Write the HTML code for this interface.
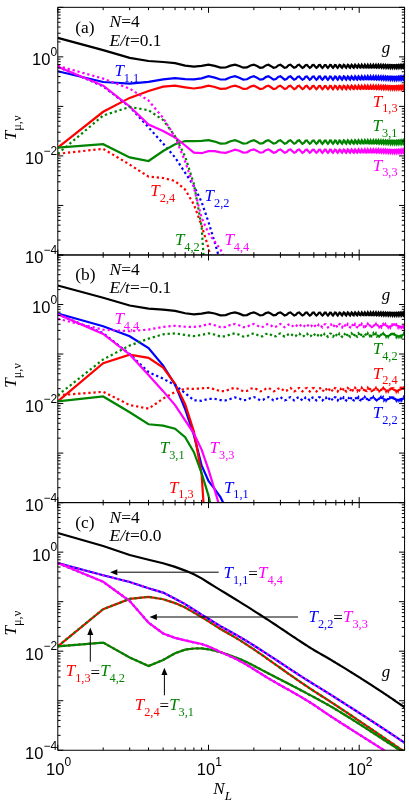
<!DOCTYPE html>
<html><head><meta charset="utf-8"><title>fig</title>
<style>html,body{margin:0;padding:0;background:#fff}svg{display:block;will-change:transform}text{white-space:pre}</style></head>
<body>
<svg width="409" height="810" viewBox="0 0 409 810">
<rect width="409" height="810" fill="#fff"/>
<defs>
<clipPath id="cp0"><rect x="57.80" y="7.33" width="346.77" height="247.64"/></clipPath>
<clipPath id="cp1"><rect x="57.80" y="254.97" width="346.77" height="247.64"/></clipPath>
<clipPath id="cp2"><rect x="57.80" y="502.61" width="346.77" height="247.64"/></clipPath>
</defs>
<g clip-path="url(#cp0)">
<path d="M57.80,37.90 L103.17,50.10 L129.70,57.90 L148.53,61.00 L163.13,62.00 L175.07,63.20 L185.16,65.60 L193.90,66.70 L201.60,65.90 L208.50,64.68 L214.74,65.90 L220.43,67.65 L225.67,67.48 L230.52,65.62 L235.04,64.69 L239.26,65.99 L243.23,67.70 L246.97,67.41 L250.51,65.54 L253.87,64.71 L257.06,66.08 L260.10,67.74 L263.01,67.35 L265.80,65.46 L268.47,64.72 L271.04,66.17 L273.51,67.77 L275.89,67.28 L278.18,65.38 L280.40,64.75 L282.55,66.26 L284.63,67.80 L286.64,67.21 L288.59,65.31 L290.49,64.78 L292.33,66.35 L294.13,67.83 L295.87,67.13 L297.57,65.24 L299.23,64.81 L300.85,66.44 L302.42,67.85 L303.96,67.05 L305.47,65.17 L306.94,64.85 L308.38,66.54 L309.79,67.86 L311.16,66.97 L312.51,65.11 L313.83,64.89 L315.13,66.62 L316.40,67.87 L317.65,66.89 L318.87,65.05 L320.07,64.94 L321.25,66.71 L322.41,67.88 L323.55,66.80 L324.67,64.99 L325.77,64.99 L326.85,66.80 L327.91,67.88 L328.96,66.71 L329.99,64.94 L331.01,65.05 L332.01,66.89 L332.99,67.87 L333.96,66.62 L334.91,64.89 L335.86,65.11 L336.78,66.97 L337.70,67.86 L338.60,66.54 L339.49,64.85 L340.37,65.17 L341.24,67.05 L342.09,67.85 L342.94,66.44 L343.77,64.81 L344.60,65.24 L345.41,67.13 L346.21,67.83 L347.01,66.35 L347.79,64.78 L348.56,65.31 L349.33,67.21 L350.09,67.80 L350.83,66.26 L351.57,64.75 L352.30,65.38 L353.03,67.28 L353.74,67.77 L354.45,66.17 L355.15,64.74 L355.84,65.47 L356.53,67.34 L357.21,67.72 L357.88,66.08 L358.54,64.73 L359.20,65.56 L359.85,67.39 L360.50,67.66 L361.13,66.00 L361.77,64.74 L362.39,65.64 L363.01,67.44 L363.63,67.60 L364.24,65.91 L364.84,64.74 L365.44,65.73 L366.03,67.48 L366.62,67.54 L367.20,65.83 L367.78,64.76 L368.35,65.82 L368.91,67.52 L369.48,67.48 L370.03,65.76 L370.58,64.77 L371.13,65.90 L371.68,67.56 L372.21,67.41 L372.75,65.68 L373.28,64.80 L373.80,65.99 L374.33,67.58 L374.84,67.34 L375.36,65.61 L375.87,64.82 L376.37,66.08 L376.87,67.61 L377.37,67.27 L377.86,65.55 L378.35,64.86 L378.84,66.16 L379.32,67.63 L379.80,67.20 L380.28,65.49 L380.75,64.89 L381.22,66.25 L381.69,67.64 L382.15,67.12 L382.61,65.43 L383.07,64.93 L383.52,66.33 L383.97,67.65 L384.41,67.05 L384.86,65.37 L385.30,64.98 L385.74,66.41 L386.17,67.65 L386.60,66.97 L387.03,65.32 L387.46,65.02 L387.88,66.48 L388.30,67.65 L388.72,66.89 L389.14,65.28 L389.55,65.07 L389.96,66.56 L390.37,67.65 L390.77,66.81 L391.18,65.24 L391.58,65.13 L391.97,66.63 L392.37,67.64 L392.76,66.74 L393.15,65.20 L393.54,65.18 L393.93,66.70 L394.31,67.62 L394.69,66.66 L395.07,65.17 L395.45,65.24 L395.83,66.77 L396.20,67.60 L396.57,66.58 L396.94,65.14 L397.30,65.30 L397.67,66.83 L398.03,67.58 L398.39,66.50 L398.75,65.12 L399.11,65.37 L399.46,66.89 L399.82,67.55 L400.17,66.43 L400.52,65.10 L400.86,65.43 L401.21,66.95 L401.55,67.52 L401.89,66.35 L402.23,65.09 L402.57,65.50 L402.91,67.00 L403.24,67.48 L403.58,66.28 L403.91,65.08 L404.24,65.57 L404.57,67.05" fill="none" stroke="#000000" stroke-width="2.20" stroke-linejoin="miter" stroke-miterlimit="10"/>
<path d="M57.80,71.20 L103.17,82.00 L129.70,83.60 L148.53,81.90 L163.13,79.30 L175.07,78.10 L185.16,79.10 L193.90,79.30 L201.60,78.40 L208.50,76.25 L214.74,77.59 L220.43,79.50 L225.67,79.31 L230.52,77.28 L235.04,76.26 L239.26,77.68 L243.23,79.55 L246.97,79.24 L250.51,77.19 L253.87,76.28 L257.06,77.78 L260.10,79.59 L263.01,79.17 L265.80,77.10 L268.47,76.30 L271.04,77.88 L273.51,79.63 L275.89,79.09 L278.18,77.02 L280.40,76.32 L282.55,77.98 L284.63,79.66 L286.64,79.01 L288.59,76.94 L290.49,76.36 L292.33,78.08 L294.13,79.69 L295.87,78.93 L297.57,76.86 L299.23,76.39 L300.85,78.18 L302.42,79.72 L303.96,78.84 L305.47,76.79 L306.94,76.43 L308.38,78.28 L309.79,79.73 L311.16,78.75 L312.51,76.72 L313.83,76.48 L315.13,78.38 L316.40,79.74 L317.65,78.66 L318.87,76.65 L320.07,76.53 L321.25,78.47 L322.41,79.75 L323.55,78.57 L324.67,76.59 L325.77,76.59 L326.85,78.57 L327.91,79.75 L328.96,78.47 L329.99,76.53 L331.01,76.65 L332.01,78.66 L332.99,79.74 L333.96,78.38 L334.91,76.48 L335.86,76.72 L336.78,78.75 L337.70,79.73 L338.60,78.28 L339.49,76.43 L340.37,76.79 L341.24,78.84 L342.09,79.72 L342.94,78.18 L343.77,76.39 L344.60,76.86 L345.41,78.93 L346.21,79.69 L347.01,78.08 L347.79,76.36 L348.56,76.94 L349.33,79.01 L350.09,79.66 L350.83,77.98 L351.57,76.32 L352.30,77.02 L353.03,79.09 L353.74,79.62 L354.45,77.88 L355.15,76.31 L355.84,77.11 L356.53,79.15 L357.21,79.57 L357.88,77.78 L358.54,76.31 L359.20,77.21 L359.85,79.21 L360.50,79.51 L361.13,77.69 L361.77,76.31 L362.39,77.30 L363.01,79.27 L363.63,79.45 L364.24,77.60 L364.84,76.32 L365.44,77.40 L366.03,79.32 L366.62,79.38 L367.20,77.51 L367.78,76.33 L368.35,77.49 L368.91,79.36 L369.48,79.31 L370.03,77.43 L370.58,76.35 L371.13,77.59 L371.68,79.40 L372.21,79.24 L372.75,77.35 L373.28,76.38 L373.80,77.68 L374.33,79.43 L374.84,79.16 L375.36,77.27 L375.87,76.41 L376.37,77.78 L376.87,79.45 L377.37,79.08 L377.86,77.20 L378.35,76.44 L378.84,77.87 L379.32,79.47 L379.80,79.00 L380.28,77.13 L380.75,76.48 L381.22,77.96 L381.69,79.49 L382.15,78.92 L382.61,77.07 L383.07,76.53 L383.52,78.05 L383.97,79.50 L384.41,78.84 L384.86,77.01 L385.30,76.57 L385.74,78.14 L386.17,79.50 L386.60,78.76 L387.03,76.95 L387.46,76.63 L387.88,78.22 L388.30,79.50 L388.72,78.67 L389.14,76.90 L389.55,76.68 L389.96,78.31 L390.37,79.49 L390.77,78.58 L391.18,76.86 L391.58,76.74 L391.97,78.38 L392.37,79.48 L392.76,78.50 L393.15,76.82 L393.54,76.80 L393.93,78.46 L394.31,79.47 L394.69,78.41 L395.07,76.79 L395.45,76.87 L395.83,78.53 L396.20,79.45 L396.57,78.33 L396.94,76.76 L397.30,76.93 L397.67,78.60 L398.03,79.42 L398.39,78.25 L398.75,76.73 L399.11,77.00 L399.46,78.67 L399.82,79.39 L400.17,78.16 L400.52,76.71 L400.86,77.07 L401.21,78.73 L401.55,79.36 L401.89,78.08 L402.23,76.70 L402.57,77.15 L402.91,78.79 L403.24,79.32 L403.58,78.00 L403.91,76.69 L404.24,77.22 L404.57,78.84" fill="none" stroke="#0000ff" stroke-width="2.20" stroke-linejoin="miter" stroke-miterlimit="10"/>
<path d="M57.80,147.60 L103.17,111.80 L129.70,97.90 L148.53,91.00 L163.13,86.70 L175.07,85.70 L185.16,87.30 L193.90,88.50 L201.60,87.30 L208.50,85.65 L214.74,86.99 L220.43,88.90 L225.67,88.71 L230.52,86.68 L235.04,85.66 L239.26,87.08 L243.23,88.95 L246.97,88.64 L250.51,86.59 L253.87,85.68 L257.06,87.18 L260.10,88.99 L263.01,88.57 L265.80,86.50 L268.47,85.70 L271.04,87.28 L273.51,89.03 L275.89,88.49 L278.18,86.42 L280.40,85.72 L282.55,87.38 L284.63,89.06 L286.64,88.41 L288.59,86.34 L290.49,85.76 L292.33,87.48 L294.13,89.09 L295.87,88.33 L297.57,86.26 L299.23,85.79 L300.85,87.58 L302.42,89.12 L303.96,88.24 L305.47,86.19 L306.94,85.83 L308.38,87.68 L309.79,89.13 L311.16,88.15 L312.51,86.12 L313.83,85.88 L315.13,87.78 L316.40,89.14 L317.65,88.06 L318.87,86.05 L320.07,85.93 L321.25,87.87 L322.41,89.15 L323.55,87.97 L324.67,85.99 L325.77,85.99 L326.85,87.97 L327.91,89.15 L328.96,87.87 L329.99,85.93 L331.01,86.05 L332.01,88.06 L332.99,89.14 L333.96,87.78 L334.91,85.88 L335.86,86.12 L336.78,88.15 L337.70,89.13 L338.60,87.68 L339.49,85.83 L340.37,86.19 L341.24,88.24 L342.09,89.12 L342.94,87.58 L343.77,85.79 L344.60,86.26 L345.41,88.33 L346.21,89.09 L347.01,87.48 L347.79,85.76 L348.56,86.34 L349.33,88.41 L350.09,89.06 L350.83,87.38 L351.57,85.72 L352.30,86.42 L353.03,88.49 L353.74,89.02 L354.45,87.28 L355.15,85.71 L355.84,86.51 L356.53,88.55 L357.21,88.97 L357.88,87.18 L358.54,85.71 L359.20,86.61 L359.85,88.61 L360.50,88.91 L361.13,87.09 L361.77,85.71 L362.39,86.70 L363.01,88.67 L363.63,88.85 L364.24,87.00 L364.84,85.72 L365.44,86.80 L366.03,88.72 L366.62,88.78 L367.20,86.91 L367.78,85.73 L368.35,86.89 L368.91,88.76 L369.48,88.71 L370.03,86.83 L370.58,85.75 L371.13,86.99 L371.68,88.80 L372.21,88.64 L372.75,86.75 L373.28,85.78 L373.80,87.08 L374.33,88.83 L374.84,88.56 L375.36,86.67 L375.87,85.81 L376.37,87.18 L376.87,88.85 L377.37,88.48 L377.86,86.60 L378.35,85.84 L378.84,87.27 L379.32,88.87 L379.80,88.40 L380.28,86.53 L380.75,85.88 L381.22,87.36 L381.69,88.89 L382.15,88.32 L382.61,86.47 L383.07,85.93 L383.52,87.45 L383.97,88.90 L384.41,88.24 L384.86,86.41 L385.30,85.97 L385.74,87.54 L386.17,88.90 L386.60,88.16 L387.03,86.35 L387.46,86.03 L387.88,87.62 L388.30,88.90 L388.72,88.07 L389.14,86.30 L389.55,86.08 L389.96,87.71 L390.37,88.89 L390.77,87.98 L391.18,86.26 L391.58,86.14 L391.97,87.78 L392.37,88.88 L392.76,87.90 L393.15,86.22 L393.54,86.20 L393.93,87.86 L394.31,88.87 L394.69,87.81 L395.07,86.19 L395.45,86.27 L395.83,87.93 L396.20,88.85 L396.57,87.73 L396.94,86.16 L397.30,86.33 L397.67,88.00 L398.03,88.82 L398.39,87.65 L398.75,86.13 L399.11,86.40 L399.46,88.07 L399.82,88.79 L400.17,87.56 L400.52,86.11 L400.86,86.47 L401.21,88.13 L401.55,88.76 L401.89,87.48 L402.23,86.10 L402.57,86.55 L402.91,88.19 L403.24,88.72 L403.58,87.40 L403.91,86.09 L404.24,86.62 L404.57,88.24" fill="none" stroke="#ff0000" stroke-width="2.20" stroke-linejoin="miter" stroke-miterlimit="10"/>
<path d="M57.80,66.70 L103.17,86.30 L129.70,106.80 L148.53,127.40 L163.13,143.50 L175.07,157.50 L185.16,172.80 L193.90,186.00 L201.60,202.00 L208.50,222.00 L214.74,242.50 L220.43,262.00 L225.67,282.00" fill="none" stroke="#0000ff" stroke-width="2.20" stroke-linejoin="miter" stroke-miterlimit="10" stroke-dasharray="2.3 2.8"/>
<path d="M57.80,153.80 L103.17,148.80 L129.70,164.60 L148.53,176.60 L163.13,178.00 L175.07,181.00 L185.16,189.60 L193.90,204.50 L201.60,225.50 L208.50,248.00 L214.74,276.00" fill="none" stroke="#ff0000" stroke-width="2.20" stroke-linejoin="miter" stroke-miterlimit="10" stroke-dasharray="2.3 2.8"/>
<path d="M57.80,147.60 L103.17,144.20 L129.70,157.40 L148.53,161.00 L163.13,151.00 L175.07,144.30 L185.16,141.00 L193.90,141.20 L201.60,140.80 L208.50,140.20 L214.74,141.57 L220.43,143.54 L225.67,143.35 L230.52,141.26 L235.04,140.21 L239.26,141.67 L243.23,143.59 L246.97,143.28 L250.51,141.17 L253.87,140.23 L257.06,141.78 L260.10,143.64 L263.01,143.20 L265.80,141.08 L268.47,140.25 L271.04,141.88 L273.51,143.68 L275.89,143.12 L278.18,140.99 L280.40,140.28 L282.55,141.98 L284.63,143.71 L286.64,143.04 L288.59,140.91 L290.49,140.31 L292.33,142.08 L294.13,143.74 L295.87,142.96 L297.57,140.83 L299.23,140.35 L300.85,142.19 L302.42,143.76 L303.96,142.87 L305.47,140.75 L306.94,140.39 L308.38,142.29 L309.79,143.78 L311.16,142.78 L312.51,140.68 L313.83,140.44 L315.13,142.39 L316.40,143.79 L317.65,142.68 L318.87,140.61 L320.07,140.49 L321.25,142.49 L322.41,143.80 L323.55,142.59 L324.67,140.55 L325.77,140.55 L326.85,142.59 L327.91,143.80 L328.96,142.49 L329.99,140.49 L331.01,140.61 L332.01,142.68 L332.99,143.79 L333.96,142.39 L334.91,140.44 L335.86,140.68 L336.78,142.78 L337.70,143.78 L338.60,142.29 L339.49,140.39 L340.37,140.75 L341.24,142.87 L342.09,143.76 L342.94,142.19 L343.77,140.35 L344.60,140.83 L345.41,142.96 L346.21,143.74 L347.01,142.08 L347.79,140.31 L348.56,140.91 L349.33,143.04 L350.09,143.71 L350.83,141.98 L351.57,140.28 L352.30,140.99 L353.03,143.12 L353.74,143.67 L354.45,141.88 L355.15,140.26 L355.84,141.09 L356.53,143.19 L357.21,143.61 L357.88,141.78 L358.54,140.26 L359.20,141.18 L359.85,143.25 L360.50,143.55 L361.13,141.68 L361.77,140.26 L362.39,141.28 L363.01,143.30 L363.63,143.49 L364.24,141.59 L364.84,140.27 L365.44,141.38 L366.03,143.35 L366.62,143.42 L367.20,141.50 L367.78,140.29 L368.35,141.48 L368.91,143.40 L369.48,143.35 L370.03,141.41 L370.58,140.31 L371.13,141.58 L371.68,143.44 L372.21,143.27 L372.75,141.33 L373.28,140.33 L373.80,141.68 L374.33,143.47 L374.84,143.20 L375.36,141.25 L375.87,140.36 L376.37,141.77 L376.87,143.49 L377.37,143.12 L377.86,141.18 L378.35,140.40 L378.84,141.87 L379.32,143.52 L379.80,143.03 L380.28,141.11 L380.75,140.44 L381.22,141.96 L381.69,143.53 L382.15,142.95 L382.61,141.04 L383.07,140.48 L383.52,142.05 L383.97,143.54 L384.41,142.86 L384.86,140.98 L385.30,140.53 L385.74,142.14 L386.17,143.54 L386.60,142.78 L387.03,140.92 L387.46,140.59 L387.88,142.23 L388.30,143.54 L388.72,142.69 L389.14,140.87 L389.55,140.64 L389.96,142.31 L390.37,143.54 L390.77,142.60 L391.18,140.83 L391.58,140.70 L391.97,142.40 L392.37,143.53 L392.76,142.51 L393.15,140.79 L393.54,140.77 L393.93,142.47 L394.31,143.51 L394.69,142.43 L395.07,140.75 L395.45,140.83 L395.83,142.55 L396.20,143.49 L396.57,142.34 L396.94,140.72 L397.30,140.90 L397.67,142.62 L398.03,143.46 L398.39,142.25 L398.75,140.70 L399.11,140.97 L399.46,142.69 L399.82,143.43 L400.17,142.17 L400.52,140.68 L400.86,141.05 L401.21,142.75 L401.55,143.39 L401.89,142.08 L402.23,140.66 L402.57,141.12 L402.91,142.81 L403.24,143.35 L403.58,142.00 L403.91,140.65 L404.24,141.20 L404.57,142.86" fill="none" stroke="#008400" stroke-width="2.20" stroke-linejoin="miter" stroke-miterlimit="10"/>
<path d="M57.80,66.70 L103.17,85.60 L129.70,106.50 L148.53,124.50 L163.13,131.00 L175.07,137.50 L185.16,145.50 L193.90,152.60 L201.60,153.20 L208.50,151.20 L214.74,151.20 L220.43,152.40 L225.67,152.80 L230.52,151.20 L235.04,149.70 L239.26,150.79 L243.23,152.62 L246.97,152.32 L250.51,150.31 L253.87,149.41 L257.06,150.89 L260.10,152.66 L263.01,152.25 L265.80,150.22 L268.47,149.43 L271.04,150.98 L273.51,152.70 L275.89,152.17 L278.18,150.14 L280.40,149.45 L282.55,151.08 L284.63,152.74 L286.64,152.09 L288.59,150.06 L290.49,149.48 L292.33,151.18 L294.13,152.76 L295.87,152.01 L297.57,149.98 L299.23,149.52 L300.85,151.28 L302.42,152.79 L303.96,151.93 L305.47,149.91 L306.94,149.56 L308.38,151.37 L309.79,152.80 L311.16,151.84 L312.51,149.84 L313.83,149.61 L315.13,151.47 L316.40,152.81 L317.65,151.75 L318.87,149.77 L320.07,149.66 L321.25,151.57 L322.41,152.82 L323.55,151.66 L324.67,149.71 L325.77,149.71 L326.85,151.66 L327.91,152.82 L328.96,151.57 L329.99,149.66 L331.01,149.77 L332.01,151.75 L332.99,152.81 L333.96,151.47 L334.91,149.61 L335.86,149.84 L336.78,151.84 L337.70,152.80 L338.60,151.37 L339.49,149.56 L340.37,149.91 L341.24,151.93 L342.09,152.79 L342.94,151.28 L343.77,149.52 L344.60,149.98 L345.41,152.01 L346.21,152.76 L347.01,151.18 L347.79,149.48 L348.56,150.06 L349.33,152.09 L350.09,152.74 L350.83,151.08 L351.57,149.45 L352.30,150.14 L353.03,152.17 L353.74,152.70 L354.45,150.98 L355.15,149.44 L355.84,150.23 L356.53,152.23 L357.21,152.64 L357.88,150.89 L358.54,149.44 L359.20,150.32 L359.85,152.29 L360.50,152.59 L361.13,150.80 L361.77,149.44 L362.39,150.41 L363.01,152.35 L363.63,152.52 L364.24,150.71 L364.84,149.45 L365.44,150.51 L366.03,152.39 L366.62,152.46 L367.20,150.62 L367.78,149.46 L368.35,150.60 L368.91,152.43 L369.48,152.39 L370.03,150.54 L370.58,149.48 L371.13,150.70 L371.68,152.47 L372.21,152.32 L372.75,150.46 L373.28,149.51 L373.80,150.79 L374.33,152.50 L374.84,152.24 L375.36,150.38 L375.87,149.54 L376.37,150.88 L376.87,152.53 L377.37,152.17 L377.86,150.31 L378.35,149.57 L378.84,150.97 L379.32,152.55 L379.80,152.09 L380.28,150.25 L380.75,149.61 L381.22,151.06 L381.69,152.56 L382.15,152.01 L382.61,150.18 L383.07,149.65 L383.52,151.15 L383.97,152.57 L384.41,151.93 L384.86,150.13 L385.30,149.70 L385.74,151.24 L386.17,152.58 L386.60,151.84 L387.03,150.07 L387.46,149.75 L387.88,151.32 L388.30,152.57 L388.72,151.76 L389.14,150.02 L389.55,149.80 L389.96,151.40 L390.37,152.57 L390.77,151.67 L391.18,149.98 L391.58,149.86 L391.97,151.48 L392.37,152.56 L392.76,151.59 L393.15,149.94 L393.54,149.92 L393.93,151.55 L394.31,152.54 L394.69,151.51 L395.07,149.91 L395.45,149.99 L395.83,151.62 L396.20,152.52 L396.57,151.42 L396.94,149.88 L397.30,150.05 L397.67,151.69 L398.03,152.50 L398.39,151.34 L398.75,149.86 L399.11,150.12 L399.46,151.76 L399.82,152.47 L400.17,151.26 L400.52,149.84 L400.86,150.19 L401.21,151.82 L401.55,152.43 L401.89,151.18 L402.23,149.82 L402.57,150.26 L402.91,151.87 L403.24,152.39 L403.58,151.10 L403.91,149.81 L404.24,150.33 L404.57,151.92" fill="none" stroke="#ff00ff" stroke-width="2.20" stroke-linejoin="miter" stroke-miterlimit="10"/>
<path d="M57.80,153.80 L103.17,115.50 L129.70,107.00 L148.53,110.20 L163.13,120.00 L175.07,136.30 L185.16,156.50 L193.90,184.00 L201.60,226.50 L208.50,330.00" fill="none" stroke="#008400" stroke-width="2.20" stroke-linejoin="miter" stroke-miterlimit="10" stroke-dasharray="2.3 2.8"/>
<path d="M57.80,65.80 L103.17,78.60 L129.70,88.60 L148.53,100.50 L163.13,118.00 L175.07,137.00 L185.16,161.50 L193.90,187.50 L201.60,217.70 L208.50,233.30 L214.74,241.50 L220.43,249.50 L225.67,260.00 L230.52,272.00" fill="none" stroke="#ff00ff" stroke-width="2.20" stroke-linejoin="miter" stroke-miterlimit="10" stroke-dasharray="2.3 2.8"/>
</g>
<g clip-path="url(#cp1)">
<path d="M57.80,285.54 L103.17,297.74 L129.70,305.54 L148.53,308.64 L163.13,309.64 L175.07,310.84 L185.16,313.24 L193.90,314.34 L201.60,313.54 L208.50,312.32 L214.74,313.54 L220.43,315.29 L225.67,315.12 L230.52,313.26 L235.04,312.33 L239.26,313.63 L243.23,315.34 L246.97,315.05 L250.51,313.18 L253.87,312.35 L257.06,313.72 L260.10,315.38 L263.01,314.99 L265.80,313.10 L268.47,312.36 L271.04,313.81 L273.51,315.41 L275.89,314.92 L278.18,313.02 L280.40,312.39 L282.55,313.90 L284.63,315.44 L286.64,314.85 L288.59,312.95 L290.49,312.42 L292.33,313.99 L294.13,315.47 L295.87,314.77 L297.57,312.88 L299.23,312.45 L300.85,314.08 L302.42,315.49 L303.96,314.69 L305.47,312.81 L306.94,312.49 L308.38,314.18 L309.79,315.50 L311.16,314.61 L312.51,312.75 L313.83,312.53 L315.13,314.26 L316.40,315.51 L317.65,314.53 L318.87,312.69 L320.07,312.58 L321.25,314.35 L322.41,315.52 L323.55,314.44 L324.67,312.63 L325.77,312.63 L326.85,314.44 L327.91,315.52 L328.96,314.35 L329.99,312.58 L331.01,312.69 L332.01,314.53 L332.99,315.51 L333.96,314.26 L334.91,312.53 L335.86,312.75 L336.78,314.61 L337.70,315.50 L338.60,314.18 L339.49,312.49 L340.37,312.81 L341.24,314.69 L342.09,315.49 L342.94,314.08 L343.77,312.45 L344.60,312.88 L345.41,314.77 L346.21,315.47 L347.01,313.99 L347.79,312.42 L348.56,312.95 L349.33,314.85 L350.09,315.44 L350.83,313.90 L351.57,312.39 L352.30,313.02 L353.03,314.92 L353.74,315.41 L354.45,313.81 L355.15,312.38 L355.84,313.11 L356.53,314.98 L357.21,315.36 L357.88,313.72 L358.54,312.37 L359.20,313.20 L359.85,315.03 L360.50,315.30 L361.13,313.64 L361.77,312.38 L362.39,313.28 L363.01,315.08 L363.63,315.24 L364.24,313.55 L364.84,312.38 L365.44,313.37 L366.03,315.12 L366.62,315.18 L367.20,313.47 L367.78,312.40 L368.35,313.46 L368.91,315.16 L369.48,315.12 L370.03,313.40 L370.58,312.41 L371.13,313.54 L371.68,315.20 L372.21,315.05 L372.75,313.32 L373.28,312.44 L373.80,313.63 L374.33,315.22 L374.84,314.98 L375.36,313.25 L375.87,312.46 L376.37,313.72 L376.87,315.25 L377.37,314.91 L377.86,313.19 L378.35,312.50 L378.84,313.80 L379.32,315.27 L379.80,314.84 L380.28,313.13 L380.75,312.53 L381.22,313.89 L381.69,315.28 L382.15,314.76 L382.61,313.07 L383.07,312.57 L383.52,313.97 L383.97,315.29 L384.41,314.69 L384.86,313.01 L385.30,312.62 L385.74,314.05 L386.17,315.29 L386.60,314.61 L387.03,312.96 L387.46,312.66 L387.88,314.12 L388.30,315.29 L388.72,314.53 L389.14,312.92 L389.55,312.71 L389.96,314.20 L390.37,315.29 L390.77,314.45 L391.18,312.88 L391.58,312.77 L391.97,314.27 L392.37,315.28 L392.76,314.38 L393.15,312.84 L393.54,312.82 L393.93,314.34 L394.31,315.26 L394.69,314.30 L395.07,312.81 L395.45,312.88 L395.83,314.41 L396.20,315.24 L396.57,314.22 L396.94,312.78 L397.30,312.94 L397.67,314.47 L398.03,315.22 L398.39,314.14 L398.75,312.76 L399.11,313.01 L399.46,314.53 L399.82,315.19 L400.17,314.07 L400.52,312.74 L400.86,313.07 L401.21,314.59 L401.55,315.16 L401.89,313.99 L402.23,312.73 L402.57,313.14 L402.91,314.64 L403.24,315.12 L403.58,313.92 L403.91,312.72 L404.24,313.21 L404.57,314.69" fill="none" stroke="#000000" stroke-width="2.20" stroke-linejoin="miter" stroke-miterlimit="10"/>
<path d="M57.80,313.44 L103.17,326.24 L129.70,336.24 L148.53,348.14 L163.13,365.64 L175.07,384.64 L185.16,409.14 L193.90,435.14 L201.60,465.34 L208.50,480.94 L214.74,489.14 L220.43,497.14 L225.67,507.64 L230.52,519.64" fill="none" stroke="#0000ff" stroke-width="2.20" stroke-linejoin="miter" stroke-miterlimit="10"/>
<path d="M57.80,401.44 L103.17,363.14 L129.70,354.64 L148.53,357.84 L163.13,367.64 L175.07,383.94 L185.16,404.14 L193.90,431.64 L201.60,474.14 L208.50,577.64" fill="none" stroke="#ff0000" stroke-width="2.20" stroke-linejoin="miter" stroke-miterlimit="10"/>
<path d="M57.80,314.34 L103.17,333.24 L129.70,354.14 L148.53,372.14 L163.13,378.64 L175.07,385.14 L185.16,393.14 L193.90,400.24 L201.60,400.84 L208.50,398.84 L214.74,398.84 L220.43,400.04 L225.67,400.44 L230.52,398.84 L235.04,397.34 L239.26,398.43 L243.23,400.26 L246.97,399.96 L250.51,397.95 L253.87,397.05 L257.06,398.53 L260.10,400.30 L263.01,399.89 L265.80,397.86 L268.47,397.07 L271.04,398.62 L273.51,400.34 L275.89,399.81 L278.18,397.78 L280.40,397.09 L282.55,398.72 L284.63,400.38 L286.64,399.73 L288.59,397.70 L290.49,397.12 L292.33,398.82 L294.13,400.40 L295.87,399.65 L297.57,397.62 L299.23,397.16 L300.85,398.92 L302.42,400.43 L303.96,399.57 L305.47,397.55 L306.94,397.20 L308.38,399.01 L309.79,400.44 L311.16,399.48 L312.51,397.48 L313.83,397.25 L315.13,399.11 L316.40,400.45 L317.65,399.39 L318.87,397.41 L320.07,397.30 L321.25,399.21 L322.41,400.46 L323.55,399.30 L324.67,397.35 L325.77,397.35 L326.85,399.30 L327.91,400.46 L328.96,399.21 L329.99,397.30 L331.01,397.41 L332.01,399.39 L332.99,400.45 L333.96,399.11 L334.91,397.25 L335.86,397.48 L336.78,399.48 L337.70,400.44 L338.60,399.01 L339.49,397.20 L340.37,397.55 L341.24,399.57 L342.09,400.43 L342.94,398.92 L343.77,397.16 L344.60,397.62 L345.41,399.65 L346.21,400.40 L347.01,398.82 L347.79,397.12 L348.56,397.70 L349.33,399.73 L350.09,400.38 L350.83,398.72 L351.57,397.09 L352.30,397.78 L353.03,399.81 L353.74,400.34 L354.45,398.62 L355.15,397.08 L355.84,397.87 L356.53,399.87 L357.21,400.28 L357.88,398.53 L358.54,397.08 L359.20,397.96 L359.85,399.93 L360.50,400.23 L361.13,398.44 L361.77,397.08 L362.39,398.05 L363.01,399.99 L363.63,400.16 L364.24,398.35 L364.84,397.09 L365.44,398.15 L366.03,400.03 L366.62,400.10 L367.20,398.26 L367.78,397.10 L368.35,398.24 L368.91,400.07 L369.48,400.03 L370.03,398.18 L370.58,397.12 L371.13,398.34 L371.68,400.11 L372.21,399.96 L372.75,398.10 L373.28,397.15 L373.80,398.43 L374.33,400.14 L374.84,399.88 L375.36,398.02 L375.87,397.18 L376.37,398.52 L376.87,400.17 L377.37,399.81 L377.86,397.95 L378.35,397.21 L378.84,398.61 L379.32,400.19 L379.80,399.73 L380.28,397.89 L380.75,397.25 L381.22,398.70 L381.69,400.20 L382.15,399.65 L382.61,397.82 L383.07,397.29 L383.52,398.79 L383.97,400.21 L384.41,399.57 L384.86,397.77 L385.30,397.34 L385.74,398.88 L386.17,400.22 L386.60,399.48 L387.03,397.71 L387.46,397.39 L387.88,398.96 L388.30,400.21 L388.72,399.40 L389.14,397.66 L389.55,397.44 L389.96,399.04 L390.37,400.21 L390.77,399.31 L391.18,397.62 L391.58,397.50 L391.97,399.12 L392.37,400.20 L392.76,399.23 L393.15,397.58 L393.54,397.56 L393.93,399.19 L394.31,400.18 L394.69,399.15 L395.07,397.55 L395.45,397.63 L395.83,399.26 L396.20,400.16 L396.57,399.06 L396.94,397.52 L397.30,397.69 L397.67,399.33 L398.03,400.14 L398.39,398.98 L398.75,397.50 L399.11,397.76 L399.46,399.40 L399.82,400.11 L400.17,398.90 L400.52,397.48 L400.86,397.83 L401.21,399.46 L401.55,400.07 L401.89,398.82 L402.23,397.46 L402.57,397.90 L402.91,399.51 L403.24,400.03 L403.58,398.74 L403.91,397.45 L404.24,397.97 L404.57,399.56" fill="none" stroke="#0000ff" stroke-width="2.20" stroke-linejoin="miter" stroke-miterlimit="10" stroke-dasharray="2.3 2.8"/>
<path d="M57.80,395.24 L103.17,391.84 L129.70,405.04 L148.53,408.64 L163.13,398.64 L175.07,391.94 L185.16,388.64 L193.90,388.84 L201.60,388.44 L208.50,387.84 L214.74,389.21 L220.43,391.18 L225.67,390.99 L230.52,388.90 L235.04,387.85 L239.26,389.31 L243.23,391.23 L246.97,390.92 L250.51,388.81 L253.87,387.87 L257.06,389.42 L260.10,391.28 L263.01,390.84 L265.80,388.72 L268.47,387.89 L271.04,389.52 L273.51,391.32 L275.89,390.76 L278.18,388.63 L280.40,387.92 L282.55,389.62 L284.63,391.35 L286.64,390.68 L288.59,388.55 L290.49,387.95 L292.33,389.72 L294.13,391.38 L295.87,390.60 L297.57,388.47 L299.23,387.99 L300.85,389.83 L302.42,391.40 L303.96,390.51 L305.47,388.39 L306.94,388.03 L308.38,389.93 L309.79,391.42 L311.16,390.42 L312.51,388.32 L313.83,388.08 L315.13,390.03 L316.40,391.43 L317.65,390.32 L318.87,388.25 L320.07,388.13 L321.25,390.13 L322.41,391.44 L323.55,390.23 L324.67,388.19 L325.77,388.19 L326.85,390.23 L327.91,391.44 L328.96,390.13 L329.99,388.13 L331.01,388.25 L332.01,390.32 L332.99,391.43 L333.96,390.03 L334.91,388.08 L335.86,388.32 L336.78,390.42 L337.70,391.42 L338.60,389.93 L339.49,388.03 L340.37,388.39 L341.24,390.51 L342.09,391.40 L342.94,389.83 L343.77,387.99 L344.60,388.47 L345.41,390.60 L346.21,391.38 L347.01,389.72 L347.79,387.95 L348.56,388.55 L349.33,390.68 L350.09,391.35 L350.83,389.62 L351.57,387.92 L352.30,388.63 L353.03,390.76 L353.74,391.31 L354.45,389.52 L355.15,387.90 L355.84,388.73 L356.53,390.83 L357.21,391.25 L357.88,389.42 L358.54,387.90 L359.20,388.82 L359.85,390.89 L360.50,391.19 L361.13,389.32 L361.77,387.90 L362.39,388.92 L363.01,390.94 L363.63,391.13 L364.24,389.23 L364.84,387.91 L365.44,389.02 L366.03,390.99 L366.62,391.06 L367.20,389.14 L367.78,387.93 L368.35,389.12 L368.91,391.04 L369.48,390.99 L370.03,389.05 L370.58,387.95 L371.13,389.22 L371.68,391.08 L372.21,390.91 L372.75,388.97 L373.28,387.97 L373.80,389.32 L374.33,391.11 L374.84,390.84 L375.36,388.89 L375.87,388.00 L376.37,389.41 L376.87,391.13 L377.37,390.76 L377.86,388.82 L378.35,388.04 L378.84,389.51 L379.32,391.16 L379.80,390.67 L380.28,388.75 L380.75,388.08 L381.22,389.60 L381.69,391.17 L382.15,390.59 L382.61,388.68 L383.07,388.12 L383.52,389.69 L383.97,391.18 L384.41,390.50 L384.86,388.62 L385.30,388.17 L385.74,389.78 L386.17,391.18 L386.60,390.42 L387.03,388.56 L387.46,388.23 L387.88,389.87 L388.30,391.18 L388.72,390.33 L389.14,388.51 L389.55,388.28 L389.96,389.95 L390.37,391.18 L390.77,390.24 L391.18,388.47 L391.58,388.34 L391.97,390.04 L392.37,391.17 L392.76,390.15 L393.15,388.43 L393.54,388.41 L393.93,390.11 L394.31,391.15 L394.69,390.07 L395.07,388.39 L395.45,388.47 L395.83,390.19 L396.20,391.13 L396.57,389.98 L396.94,388.36 L397.30,388.54 L397.67,390.26 L398.03,391.10 L398.39,389.89 L398.75,388.34 L399.11,388.61 L399.46,390.33 L399.82,391.07 L400.17,389.81 L400.52,388.32 L400.86,388.69 L401.21,390.39 L401.55,391.03 L401.89,389.72 L402.23,388.30 L402.57,388.76 L402.91,390.45 L403.24,390.99 L403.58,389.64 L403.91,388.29 L404.24,388.84 L404.57,390.50" fill="none" stroke="#ff0000" stroke-width="2.20" stroke-linejoin="miter" stroke-miterlimit="10" stroke-dasharray="2.3 2.8"/>
<path d="M57.80,401.44 L103.17,396.44 L129.70,412.24 L148.53,424.24 L163.13,425.64 L175.07,428.64 L185.16,437.24 L193.90,452.14 L201.60,473.14 L208.50,495.64 L214.74,523.64" fill="none" stroke="#008400" stroke-width="2.20" stroke-linejoin="miter" stroke-miterlimit="10"/>
<path d="M57.80,314.34 L103.17,333.94 L129.70,354.44 L148.53,375.04 L163.13,391.14 L175.07,405.14 L185.16,420.44 L193.90,433.64 L201.60,449.64 L208.50,469.64 L214.74,490.14 L220.43,509.64 L225.67,529.64" fill="none" stroke="#ff00ff" stroke-width="2.20" stroke-linejoin="miter" stroke-miterlimit="10"/>
<path d="M57.80,395.24 L103.17,359.44 L129.70,345.54 L148.53,338.64 L163.13,334.34 L175.07,333.34 L185.16,334.94 L193.90,336.14 L201.60,334.94 L208.50,333.29 L214.74,334.63 L220.43,336.54 L225.67,336.35 L230.52,334.32 L235.04,333.30 L239.26,334.72 L243.23,336.59 L246.97,336.28 L250.51,334.23 L253.87,333.32 L257.06,334.82 L260.10,336.63 L263.01,336.21 L265.80,334.14 L268.47,333.34 L271.04,334.92 L273.51,336.67 L275.89,336.13 L278.18,334.06 L280.40,333.36 L282.55,335.02 L284.63,336.70 L286.64,336.05 L288.59,333.98 L290.49,333.40 L292.33,335.12 L294.13,336.73 L295.87,335.97 L297.57,333.90 L299.23,333.43 L300.85,335.22 L302.42,336.76 L303.96,335.88 L305.47,333.83 L306.94,333.47 L308.38,335.32 L309.79,336.77 L311.16,335.79 L312.51,333.76 L313.83,333.52 L315.13,335.42 L316.40,336.78 L317.65,335.70 L318.87,333.69 L320.07,333.57 L321.25,335.51 L322.41,336.79 L323.55,335.61 L324.67,333.63 L325.77,333.63 L326.85,335.61 L327.91,336.79 L328.96,335.51 L329.99,333.57 L331.01,333.69 L332.01,335.70 L332.99,336.78 L333.96,335.42 L334.91,333.52 L335.86,333.76 L336.78,335.79 L337.70,336.77 L338.60,335.32 L339.49,333.47 L340.37,333.83 L341.24,335.88 L342.09,336.76 L342.94,335.22 L343.77,333.43 L344.60,333.90 L345.41,335.97 L346.21,336.73 L347.01,335.12 L347.79,333.40 L348.56,333.98 L349.33,336.05 L350.09,336.70 L350.83,335.02 L351.57,333.36 L352.30,334.06 L353.03,336.13 L353.74,336.66 L354.45,334.92 L355.15,333.35 L355.84,334.15 L356.53,336.19 L357.21,336.61 L357.88,334.82 L358.54,333.35 L359.20,334.25 L359.85,336.25 L360.50,336.55 L361.13,334.73 L361.77,333.35 L362.39,334.34 L363.01,336.31 L363.63,336.49 L364.24,334.64 L364.84,333.36 L365.44,334.44 L366.03,336.36 L366.62,336.42 L367.20,334.55 L367.78,333.37 L368.35,334.53 L368.91,336.40 L369.48,336.35 L370.03,334.47 L370.58,333.39 L371.13,334.63 L371.68,336.44 L372.21,336.28 L372.75,334.39 L373.28,333.42 L373.80,334.72 L374.33,336.47 L374.84,336.20 L375.36,334.31 L375.87,333.45 L376.37,334.82 L376.87,336.49 L377.37,336.12 L377.86,334.24 L378.35,333.48 L378.84,334.91 L379.32,336.51 L379.80,336.04 L380.28,334.17 L380.75,333.52 L381.22,335.00 L381.69,336.53 L382.15,335.96 L382.61,334.11 L383.07,333.57 L383.52,335.09 L383.97,336.54 L384.41,335.88 L384.86,334.05 L385.30,333.61 L385.74,335.18 L386.17,336.54 L386.60,335.80 L387.03,333.99 L387.46,333.67 L387.88,335.26 L388.30,336.54 L388.72,335.71 L389.14,333.94 L389.55,333.72 L389.96,335.35 L390.37,336.53 L390.77,335.62 L391.18,333.90 L391.58,333.78 L391.97,335.42 L392.37,336.52 L392.76,335.54 L393.15,333.86 L393.54,333.84 L393.93,335.50 L394.31,336.51 L394.69,335.45 L395.07,333.83 L395.45,333.91 L395.83,335.57 L396.20,336.49 L396.57,335.37 L396.94,333.80 L397.30,333.97 L397.67,335.64 L398.03,336.46 L398.39,335.29 L398.75,333.77 L399.11,334.04 L399.46,335.71 L399.82,336.43 L400.17,335.20 L400.52,333.75 L400.86,334.11 L401.21,335.77 L401.55,336.40 L401.89,335.12 L402.23,333.74 L402.57,334.19 L402.91,335.83 L403.24,336.36 L403.58,335.04 L403.91,333.73 L404.24,334.26 L404.57,335.88" fill="none" stroke="#008400" stroke-width="2.20" stroke-linejoin="miter" stroke-miterlimit="10" stroke-dasharray="2.3 2.8"/>
<path d="M57.80,318.84 L103.17,329.64 L129.70,331.24 L148.53,329.54 L163.13,326.94 L175.07,325.74 L185.16,326.74 L193.90,326.94 L201.60,326.04 L208.50,323.89 L214.74,325.23 L220.43,327.14 L225.67,326.95 L230.52,324.92 L235.04,323.90 L239.26,325.32 L243.23,327.19 L246.97,326.88 L250.51,324.83 L253.87,323.92 L257.06,325.42 L260.10,327.23 L263.01,326.81 L265.80,324.74 L268.47,323.94 L271.04,325.52 L273.51,327.27 L275.89,326.73 L278.18,324.66 L280.40,323.96 L282.55,325.62 L284.63,327.30 L286.64,326.65 L288.59,324.58 L290.49,324.00 L292.33,325.72 L294.13,327.33 L295.87,326.57 L297.57,324.50 L299.23,324.03 L300.85,325.82 L302.42,327.36 L303.96,326.48 L305.47,324.43 L306.94,324.07 L308.38,325.92 L309.79,327.37 L311.16,326.39 L312.51,324.36 L313.83,324.12 L315.13,326.02 L316.40,327.38 L317.65,326.30 L318.87,324.29 L320.07,324.17 L321.25,326.11 L322.41,327.39 L323.55,326.21 L324.67,324.23 L325.77,324.23 L326.85,326.21 L327.91,327.39 L328.96,326.11 L329.99,324.17 L331.01,324.29 L332.01,326.30 L332.99,327.38 L333.96,326.02 L334.91,324.12 L335.86,324.36 L336.78,326.39 L337.70,327.37 L338.60,325.92 L339.49,324.07 L340.37,324.43 L341.24,326.48 L342.09,327.36 L342.94,325.82 L343.77,324.03 L344.60,324.50 L345.41,326.57 L346.21,327.33 L347.01,325.72 L347.79,324.00 L348.56,324.58 L349.33,326.65 L350.09,327.30 L350.83,325.62 L351.57,323.96 L352.30,324.66 L353.03,326.73 L353.74,327.26 L354.45,325.52 L355.15,323.95 L355.84,324.75 L356.53,326.79 L357.21,327.21 L357.88,325.42 L358.54,323.95 L359.20,324.85 L359.85,326.85 L360.50,327.15 L361.13,325.33 L361.77,323.95 L362.39,324.94 L363.01,326.91 L363.63,327.09 L364.24,325.24 L364.84,323.96 L365.44,325.04 L366.03,326.96 L366.62,327.02 L367.20,325.15 L367.78,323.97 L368.35,325.13 L368.91,327.00 L369.48,326.95 L370.03,325.07 L370.58,323.99 L371.13,325.23 L371.68,327.04 L372.21,326.88 L372.75,324.99 L373.28,324.02 L373.80,325.32 L374.33,327.07 L374.84,326.80 L375.36,324.91 L375.87,324.05 L376.37,325.42 L376.87,327.09 L377.37,326.72 L377.86,324.84 L378.35,324.08 L378.84,325.51 L379.32,327.11 L379.80,326.64 L380.28,324.77 L380.75,324.12 L381.22,325.60 L381.69,327.13 L382.15,326.56 L382.61,324.71 L383.07,324.17 L383.52,325.69 L383.97,327.14 L384.41,326.48 L384.86,324.65 L385.30,324.21 L385.74,325.78 L386.17,327.14 L386.60,326.40 L387.03,324.59 L387.46,324.27 L387.88,325.86 L388.30,327.14 L388.72,326.31 L389.14,324.54 L389.55,324.32 L389.96,325.95 L390.37,327.13 L390.77,326.22 L391.18,324.50 L391.58,324.38 L391.97,326.02 L392.37,327.12 L392.76,326.14 L393.15,324.46 L393.54,324.44 L393.93,326.10 L394.31,327.11 L394.69,326.05 L395.07,324.43 L395.45,324.51 L395.83,326.17 L396.20,327.09 L396.57,325.97 L396.94,324.40 L397.30,324.57 L397.67,326.24 L398.03,327.06 L398.39,325.89 L398.75,324.37 L399.11,324.64 L399.46,326.31 L399.82,327.03 L400.17,325.80 L400.52,324.35 L400.86,324.71 L401.21,326.37 L401.55,327.00 L401.89,325.72 L402.23,324.34 L402.57,324.79 L402.91,326.43 L403.24,326.96 L403.58,325.64 L403.91,324.33 L404.24,324.86 L404.57,326.48" fill="none" stroke="#ff00ff" stroke-width="2.20" stroke-linejoin="miter" stroke-miterlimit="10" stroke-dasharray="2.3 2.8"/>
</g>
<g clip-path="url(#cp2)">
<path d="M57.80,533.00 L103.17,546.00 L129.70,555.00 L148.53,559.80 L163.13,563.20 L175.07,566.90 L185.16,570.60 L193.90,574.20 L201.60,578.40 L208.50,582.80 L214.74,586.64 L220.43,590.10 L225.67,593.26 L230.52,596.20 L235.04,598.98 L239.26,601.60 L243.23,604.09 L246.97,606.44 L250.51,608.68 L253.87,610.81 L257.06,612.85 L260.10,614.80 L263.01,616.66 L265.80,618.45 L268.47,620.17 L271.04,621.84 L273.51,623.46 L275.89,625.04 L278.18,626.57 L280.40,628.05 L282.55,629.49 L284.63,630.89 L286.64,632.24 L288.59,633.56 L290.49,634.84 L292.33,636.07 L294.13,637.27 L295.87,638.44 L297.57,639.56 L299.23,640.66 L300.85,641.72 L302.42,642.75 L303.96,643.75 L305.47,644.72 L306.94,645.66 L308.38,646.57 L309.79,647.46 L311.16,648.32 L312.51,649.15 L313.83,649.96 L315.13,650.74 L316.40,651.49 L317.65,652.22 L318.87,652.92 L320.07,653.60 L321.25,654.27 L322.41,654.92 L323.55,655.56 L324.67,656.20 L325.77,656.82 L326.85,657.45 L327.91,658.06 L328.96,658.68 L329.99,659.29 L331.01,659.91 L332.01,660.51 L332.99,661.10 L333.96,661.69 L334.91,662.27 L335.86,662.84 L336.78,663.40 L337.70,663.96 L338.60,664.51 L339.49,665.05 L340.37,665.59 L341.24,666.12 L342.09,666.64 L342.94,667.16 L343.77,667.67 L344.60,668.18 L345.41,668.68 L346.21,669.17 L347.01,669.66 L347.79,670.15 L348.56,670.63 L349.33,671.10 L350.09,671.57 L350.83,672.04 L351.57,672.50 L352.30,672.95 L353.03,673.40 L353.74,673.85 L354.45,674.29 L355.15,674.73 L355.84,675.16 L356.53,675.59 L357.21,676.02 L357.88,676.44 L358.54,676.86 L359.20,677.28 L359.85,677.69 L360.50,678.09 L361.13,678.50 L361.77,678.90 L362.39,679.30 L363.01,679.69 L363.63,680.08 L364.24,680.47 L364.84,680.85 L365.44,681.24 L366.03,681.61 L366.62,681.99 L367.20,682.36 L367.78,682.73 L368.35,683.10 L368.91,683.46 L369.48,683.82 L370.03,684.18 L370.58,684.54 L371.13,684.89 L371.68,685.24 L372.21,685.59 L372.75,685.94 L373.28,686.28 L373.80,686.63 L374.33,686.96 L374.84,687.30 L375.36,687.64 L375.87,687.97 L376.37,688.30 L376.87,688.63 L377.37,688.95 L377.86,689.27 L378.35,689.60 L378.84,689.92 L379.32,690.23 L379.80,690.55 L380.28,690.86 L380.75,691.17 L381.22,691.48 L381.69,691.79 L382.15,692.10 L382.61,692.40 L383.07,692.70 L383.52,693.00 L383.97,693.30 L384.41,693.60 L384.86,693.90 L385.30,694.19 L385.74,694.48 L386.17,694.77 L386.60,695.06 L387.03,695.35 L387.46,695.63 L387.88,695.92 L388.30,696.20 L388.72,696.48 L389.14,696.76 L389.55,697.04 L389.96,697.31 L390.37,697.59 L390.77,697.86 L391.18,698.14 L391.58,698.41 L391.97,698.68 L392.37,698.94 L392.76,699.21 L393.15,699.47 L393.54,699.74 L393.93,700.00 L394.31,700.26 L394.69,700.52 L395.07,700.78 L395.45,701.04 L395.83,701.30 L396.20,701.55 L396.57,701.80 L396.94,702.06 L397.30,702.31 L397.67,702.56 L398.03,702.81 L398.39,703.06 L398.75,703.30 L399.11,703.55 L399.46,703.79 L399.82,704.04 L400.17,704.28 L400.52,704.52 L400.86,704.76 L401.21,705.00 L401.55,705.24 L401.89,705.48 L402.23,705.71 L402.57,705.95 L402.91,706.18 L403.24,706.41 L403.58,706.65 L403.91,706.88 L404.24,707.11 L404.57,707.34" fill="none" stroke="#000000" stroke-width="2.20" stroke-linejoin="miter" stroke-miterlimit="10"/>
<path d="M57.80,563.10 L103.17,575.30 L129.70,582.00 L148.53,588.20 L163.13,592.60 L175.07,598.70 L185.16,604.10 L193.90,609.70 L201.60,614.60 L208.50,618.70 L214.74,622.60 L220.43,626.10 L225.67,629.04 L230.52,631.70 L235.04,634.20 L239.26,636.60 L243.23,638.96 L246.97,641.23 L250.51,643.41 L253.87,645.51 L257.06,647.53 L260.10,649.47 L263.01,651.35 L265.80,653.15 L268.47,654.89 L271.04,656.57 L273.51,658.19 L275.89,659.76 L278.18,661.27 L280.40,662.73 L282.55,664.15 L284.63,665.52 L286.64,666.85 L288.59,668.13 L290.49,669.38 L292.33,670.58 L294.13,671.76 L295.87,672.89 L297.57,674.00 L299.23,675.07 L300.85,676.11 L302.42,677.13 L303.96,678.11 L305.47,679.07 L306.94,680.00 L308.38,680.91 L309.79,681.79 L311.16,682.65 L312.51,683.49 L313.83,684.31 L315.13,685.11 L316.40,685.89 L317.65,686.65 L318.87,687.41 L320.07,688.14 L321.25,688.87 L322.41,689.58 L323.55,690.28 L324.67,690.97 L325.77,691.65 L326.85,692.33 L327.91,692.99 L328.96,693.65 L329.99,694.29 L331.01,694.94 L332.01,695.57 L332.99,696.19 L333.96,696.80 L334.91,697.41 L335.86,698.00 L336.78,698.59 L337.70,699.17 L338.60,699.74 L339.49,700.31 L340.37,700.87 L341.24,701.42 L342.09,701.96 L342.94,702.50 L343.77,703.03 L344.60,703.55 L345.41,704.07 L346.21,704.58 L347.01,705.09 L347.79,705.59 L348.56,706.08 L349.33,706.57 L350.09,707.06 L350.83,707.53 L351.57,708.01 L352.30,708.48 L353.03,708.94 L353.74,709.40 L354.45,709.85 L355.15,710.30 L355.84,710.75 L356.53,711.19 L357.21,711.62 L357.88,712.05 L358.54,712.48 L359.20,712.90 L359.85,713.32 L360.50,713.74 L361.13,714.15 L361.77,714.56 L362.39,714.96 L363.01,715.36 L363.63,715.76 L364.24,716.15 L364.84,716.54 L365.44,716.93 L366.03,717.31 L366.62,717.69 L367.20,718.07 L367.78,718.45 L368.35,718.82 L368.91,719.18 L369.48,719.55 L370.03,719.91 L370.58,720.27 L371.13,720.63 L371.68,720.98 L372.21,721.33 L372.75,721.68 L373.28,722.02 L373.80,722.37 L374.33,722.71 L374.84,723.04 L375.36,723.38 L375.87,723.71 L376.37,724.04 L376.87,724.37 L377.37,724.70 L377.86,725.02 L378.35,725.34 L378.84,725.66 L379.32,725.98 L379.80,726.29 L380.28,726.60 L380.75,726.91 L381.22,727.22 L381.69,727.53 L382.15,727.83 L382.61,728.13 L383.07,728.43 L383.52,728.73 L383.97,729.03 L384.41,729.32 L384.86,729.61 L385.30,729.90 L385.74,730.19 L386.17,730.48 L386.60,730.77 L387.03,731.05 L387.46,731.33 L387.88,731.61 L388.30,731.89 L388.72,732.17 L389.14,732.44 L389.55,732.71 L389.96,732.99 L390.37,733.26 L390.77,733.53 L391.18,733.79 L391.58,734.06 L391.97,734.32 L392.37,734.58 L392.76,734.85 L393.15,735.11 L393.54,735.36 L393.93,735.62 L394.31,735.88 L394.69,736.13 L395.07,736.38 L395.45,736.64 L395.83,736.89 L396.20,737.13 L396.57,737.38 L396.94,737.63 L397.30,737.87 L397.67,738.12 L398.03,738.36 L398.39,738.60 L398.75,738.84 L399.11,739.08 L399.46,739.32 L399.82,739.55 L400.17,739.79 L400.52,740.02 L400.86,740.25 L401.21,740.49 L401.55,740.72 L401.89,740.95 L402.23,741.17 L402.57,741.40 L402.91,741.63 L403.24,741.85 L403.58,742.08 L403.91,742.30 L404.24,742.52 L404.57,742.74" fill="none" stroke="#0000ff" stroke-width="2.20" stroke-linejoin="miter" stroke-miterlimit="10"/>
<path d="M57.80,646.30 L103.17,609.10 L129.70,598.90 L148.53,596.80 L163.13,599.20 L175.07,603.10 L185.16,607.50 L193.90,612.60 L201.60,617.00 L208.50,621.40 L214.74,625.43 L220.43,629.00 L225.67,631.98 L230.52,634.70 L235.04,637.34 L239.26,639.90 L243.23,642.42 L246.97,644.84 L250.51,647.18 L253.87,649.43 L257.06,651.61 L260.10,653.70 L263.01,655.71 L265.80,657.66 L268.47,659.53 L271.04,661.34 L273.51,663.09 L275.89,664.78 L278.18,666.41 L280.40,667.98 L282.55,669.50 L284.63,670.98 L286.64,672.40 L288.59,673.78 L290.49,675.12 L292.33,676.42 L294.13,677.67 L295.87,678.89 L297.57,680.07 L299.23,681.21 L300.85,682.33 L302.42,683.41 L303.96,684.45 L305.47,685.47 L306.94,686.46 L308.38,687.42 L309.79,688.36 L311.16,689.27 L312.51,690.15 L313.83,691.01 L315.13,691.84 L316.40,692.66 L317.65,693.46 L318.87,694.24 L320.07,695.01 L321.25,695.76 L322.41,696.50 L323.55,697.23 L324.67,697.94 L325.77,698.65 L326.85,699.35 L327.91,700.04 L328.96,700.72 L329.99,701.39 L331.01,702.06 L332.01,702.72 L332.99,703.37 L333.96,704.01 L334.91,704.64 L335.86,705.26 L336.78,705.88 L337.70,706.48 L338.60,707.08 L339.49,707.67 L340.37,708.26 L341.24,708.83 L342.09,709.40 L342.94,709.97 L343.77,710.52 L344.60,711.07 L345.41,711.61 L346.21,712.15 L347.01,712.68 L347.79,713.21 L348.56,713.72 L349.33,714.24 L350.09,714.75 L350.83,715.25 L351.57,715.74 L352.30,716.24 L353.03,716.72 L353.74,717.20 L354.45,717.68 L355.15,718.15 L355.84,718.62 L356.53,719.08 L357.21,719.54 L357.88,719.99 L358.54,720.44 L359.20,720.88 L359.85,721.32 L360.50,721.76 L361.13,722.19 L361.77,722.62 L362.39,723.04 L363.01,723.46 L363.63,723.88 L364.24,724.29 L364.84,724.70 L365.44,725.10 L366.03,725.51 L366.62,725.90 L367.20,726.30 L367.78,726.69 L368.35,727.08 L368.91,727.46 L369.48,727.85 L370.03,728.22 L370.58,728.60 L371.13,728.97 L371.68,729.34 L372.21,729.71 L372.75,730.07 L373.28,730.43 L373.80,730.79 L374.33,731.15 L374.84,731.50 L375.36,731.85 L375.87,732.20 L376.37,732.54 L376.87,732.88 L377.37,733.22 L377.86,733.56 L378.35,733.89 L378.84,734.22 L379.32,734.55 L379.80,734.88 L380.28,735.21 L380.75,735.53 L381.22,735.85 L381.69,736.17 L382.15,736.48 L382.61,736.80 L383.07,737.11 L383.52,737.42 L383.97,737.73 L384.41,738.03 L384.86,738.33 L385.30,738.64 L385.74,738.94 L386.17,739.23 L386.60,739.53 L387.03,739.82 L387.46,740.11 L387.88,740.40 L388.30,740.69 L388.72,740.98 L389.14,741.26 L389.55,741.54 L389.96,741.82 L390.37,742.10 L390.77,742.38 L391.18,742.66 L391.58,742.93 L391.97,743.20 L392.37,743.47 L392.76,743.74 L393.15,744.01 L393.54,744.28 L393.93,744.54 L394.31,744.80 L394.69,745.07 L395.07,745.32 L395.45,745.58 L395.83,745.84 L396.20,746.10 L396.57,746.35 L396.94,746.60 L397.30,746.85 L397.67,747.10 L398.03,747.35 L398.39,747.60 L398.75,747.84 L399.11,748.09 L399.46,748.33 L399.82,748.57 L400.17,748.81 L400.52,749.05 L400.86,749.29 L401.21,749.53 L401.55,749.76 L401.89,750.00 L402.23,750.23 L402.57,750.46 L402.91,750.69 L403.24,750.92 L403.58,751.15 L403.91,751.38 L404.24,751.61 L404.57,751.84" fill="none" stroke="#ff0000" stroke-width="2.20" stroke-linejoin="miter" stroke-miterlimit="10"/>
<path d="M57.80,563.10 L103.17,581.80 L129.70,601.00 L148.53,622.60 L163.13,633.50 L175.07,637.90 L185.16,640.40 L193.90,642.40 L201.60,644.00 L208.50,646.50 L214.74,649.24 L220.43,651.90 L225.67,654.27 L230.52,656.50 L235.04,658.61 L239.26,660.70 L243.23,662.86 L246.97,665.03 L250.51,667.17 L253.87,669.25 L257.06,671.26 L260.10,673.17 L263.01,675.00 L265.80,676.71 L268.47,678.33 L271.04,679.84 L273.51,681.28 L275.89,682.64 L278.18,683.95 L280.40,685.21 L282.55,686.42 L284.63,687.59 L286.64,688.73 L288.59,689.83 L290.49,690.90 L292.33,691.95 L294.13,692.97 L295.87,693.97 L297.57,694.95 L299.23,695.91 L300.85,696.86 L302.42,697.80 L303.96,698.72 L305.47,699.63 L306.94,700.52 L308.38,701.41 L309.79,702.29 L311.16,703.17 L312.51,704.04 L313.83,704.91 L315.13,705.77 L316.40,706.62 L317.65,707.46 L318.87,708.29 L320.07,709.11 L321.25,709.92 L322.41,710.70 L323.55,711.48 L324.67,712.24 L325.77,712.98 L326.85,713.71 L327.91,714.42 L328.96,715.12 L329.99,715.79 L331.01,716.46 L332.01,717.11 L332.99,717.75 L333.96,718.38 L334.91,719.00 L335.86,719.61 L336.78,720.21 L337.70,720.80 L338.60,721.38 L339.49,721.96 L340.37,722.52 L341.24,723.08 L342.09,723.63 L342.94,724.17 L343.77,724.70 L344.60,725.23 L345.41,725.75 L346.21,726.26 L347.01,726.77 L347.79,727.27 L348.56,727.76 L349.33,728.25 L350.09,728.73 L350.83,729.21 L351.57,729.68 L352.30,730.14 L353.03,730.60 L353.74,731.06 L354.45,731.51 L355.15,731.95 L355.84,732.39 L356.53,732.82 L357.21,733.25 L357.88,733.68 L358.54,734.10 L359.20,734.51 L359.85,734.93 L360.50,735.33 L361.13,735.74 L361.77,736.14 L362.39,736.54 L363.01,736.93 L363.63,737.32 L364.24,737.70 L364.84,738.08 L365.44,738.46 L366.03,738.84 L366.62,739.21 L367.20,739.58 L367.78,739.94 L368.35,740.30 L368.91,740.66 L369.48,741.02 L370.03,741.37 L370.58,741.72 L371.13,742.07 L371.68,742.41 L372.21,742.75 L372.75,743.09 L373.28,743.43 L373.80,743.76 L374.33,744.09 L374.84,744.42 L375.36,744.75 L375.87,745.07 L376.37,745.39 L376.87,745.71 L377.37,746.03 L377.86,746.34 L378.35,746.65 L378.84,746.96 L379.32,747.27 L379.80,747.58 L380.28,747.88 L380.75,748.18 L381.22,748.48 L381.69,748.78 L382.15,749.07 L382.61,749.37 L383.07,749.66 L383.52,749.95 L383.97,750.24 L384.41,750.52 L384.86,750.81 L385.30,751.09 L385.74,751.37 L386.17,751.65 L386.60,751.92 L387.03,752.20 L387.46,752.47 L387.88,752.74 L388.30,753.01 L388.72,753.28 L389.14,753.55 L389.55,753.81 L389.96,754.07 L390.37,754.34 L390.77,754.60 L391.18,754.85 L391.58,755.11 L391.97,755.37 L392.37,755.62 L392.76,755.87 L393.15,756.12 L393.54,756.37 L393.93,756.62 L394.31,756.87 L394.69,757.11 L395.07,757.35 L395.45,757.60 L395.83,757.84 L396.20,758.08 L396.57,758.31 L396.94,758.55 L397.30,758.79 L397.67,759.02 L398.03,759.25 L398.39,759.48 L398.75,759.71 L399.11,759.94 L399.46,760.17 L399.82,760.40 L400.17,760.62 L400.52,760.85 L400.86,761.07 L401.21,761.29 L401.55,761.51 L401.89,761.73 L402.23,761.95 L402.57,762.17 L402.91,762.38 L403.24,762.60 L403.58,762.81 L403.91,763.03 L404.24,763.24 L404.57,763.45" fill="none" stroke="#0000ff" stroke-width="2.20" stroke-linejoin="miter" stroke-miterlimit="10" stroke-dasharray="2.3 2.8"/>
<path d="M57.80,646.30 L103.17,642.60 L129.70,657.50 L148.53,666.00 L163.13,659.90 L175.07,653.30 L185.16,649.60 L193.90,648.50 L201.60,648.30 L208.50,649.30 L214.74,650.66 L220.43,652.20 L225.67,653.88 L230.52,655.60 L235.04,657.19 L239.26,658.80 L243.23,660.52 L246.97,662.28 L250.51,664.04 L253.87,665.77 L257.06,667.45 L260.10,669.07 L263.01,670.62 L265.80,672.09 L268.47,673.48 L271.04,674.79 L273.51,676.05 L275.89,677.27 L278.18,678.44 L280.40,679.58 L282.55,680.68 L284.63,681.75 L286.64,682.79 L288.59,683.79 L290.49,684.78 L292.33,685.73 L294.13,686.66 L295.87,687.57 L297.57,688.46 L299.23,689.33 L300.85,690.18 L302.42,691.01 L303.96,691.82 L305.47,692.62 L306.94,693.40 L308.38,694.17 L309.79,694.92 L311.16,695.65 L312.51,696.38 L313.83,697.08 L315.13,697.78 L316.40,698.46 L317.65,699.13 L318.87,699.79 L320.07,700.44 L321.25,701.09 L322.41,701.72 L323.55,702.35 L324.67,702.97 L325.77,703.59 L326.85,704.20 L327.91,704.80 L328.96,705.40 L329.99,705.99 L331.01,706.58 L332.01,707.17 L332.99,707.75 L333.96,708.32 L334.91,708.88 L335.86,709.44 L336.78,710.00 L337.70,710.55 L338.60,711.09 L339.49,711.63 L340.37,712.16 L341.24,712.69 L342.09,713.21 L342.94,713.72 L343.77,714.24 L344.60,714.74 L345.41,715.24 L346.21,715.74 L347.01,716.23 L347.79,716.72 L348.56,717.20 L349.33,717.68 L350.09,718.15 L350.83,718.62 L351.57,719.09 L352.30,719.55 L353.03,720.00 L353.74,720.45 L354.45,720.90 L355.15,721.35 L355.84,721.78 L356.53,722.22 L357.21,722.65 L357.88,723.08 L358.54,723.50 L359.20,723.92 L359.85,724.34 L360.50,724.75 L361.13,725.16 L361.77,725.57 L362.39,725.97 L363.01,726.37 L363.63,726.77 L364.24,727.16 L364.84,727.55 L365.44,727.93 L366.03,728.32 L366.62,728.70 L367.20,729.07 L367.78,729.45 L368.35,729.82 L368.91,730.18 L369.48,730.55 L370.03,730.91 L370.58,731.27 L371.13,731.62 L371.68,731.97 L372.21,732.32 L372.75,732.67 L373.28,733.02 L373.80,733.36 L374.33,733.70 L374.84,734.03 L375.36,734.37 L375.87,734.70 L376.37,735.03 L376.87,735.35 L377.37,735.68 L377.86,736.00 L378.35,736.32 L378.84,736.64 L379.32,736.95 L379.80,737.26 L380.28,737.57 L380.75,737.88 L381.22,738.19 L381.69,738.49 L382.15,738.79 L382.61,739.09 L383.07,739.39 L383.52,739.68 L383.97,739.97 L384.41,740.26 L384.86,740.55 L385.30,740.84 L385.74,741.12 L386.17,741.40 L386.60,741.69 L387.03,741.96 L387.46,742.24 L387.88,742.52 L388.30,742.79 L388.72,743.06 L389.14,743.33 L389.55,743.60 L389.96,743.86 L390.37,744.13 L390.77,744.39 L391.18,744.65 L391.58,744.91 L391.97,745.16 L392.37,745.42 L392.76,745.67 L393.15,745.93 L393.54,746.18 L393.93,746.43 L394.31,746.67 L394.69,746.92 L395.07,747.16 L395.45,747.41 L395.83,747.65 L396.20,747.89 L396.57,748.12 L396.94,748.36 L397.30,748.60 L397.67,748.83 L398.03,749.06 L398.39,749.29 L398.75,749.52 L399.11,749.75 L399.46,749.98 L399.82,750.20 L400.17,750.43 L400.52,750.65 L400.86,750.87 L401.21,751.09 L401.55,751.31 L401.89,751.53 L402.23,751.75 L402.57,751.97 L402.91,752.18 L403.24,752.40 L403.58,752.61 L403.91,752.83 L404.24,753.04 L404.57,753.25" fill="none" stroke="#ff0000" stroke-width="2.20" stroke-linejoin="miter" stroke-miterlimit="10" stroke-dasharray="2.3 2.8"/>
<path d="M57.80,646.30 L103.17,642.60 L129.70,657.50 L148.53,666.00 L163.13,659.90 L175.07,653.30 L185.16,649.60 L193.90,648.50 L201.60,648.30 L208.50,649.30 L214.74,650.66 L220.43,652.20 L225.67,653.88 L230.52,655.60 L235.04,657.19 L239.26,658.80 L243.23,660.52 L246.97,662.28 L250.51,664.04 L253.87,665.77 L257.06,667.45 L260.10,669.07 L263.01,670.62 L265.80,672.09 L268.47,673.48 L271.04,674.79 L273.51,676.05 L275.89,677.27 L278.18,678.44 L280.40,679.58 L282.55,680.68 L284.63,681.75 L286.64,682.79 L288.59,683.79 L290.49,684.78 L292.33,685.73 L294.13,686.66 L295.87,687.57 L297.57,688.46 L299.23,689.33 L300.85,690.18 L302.42,691.01 L303.96,691.82 L305.47,692.62 L306.94,693.40 L308.38,694.17 L309.79,694.92 L311.16,695.65 L312.51,696.38 L313.83,697.08 L315.13,697.78 L316.40,698.46 L317.65,699.13 L318.87,699.79 L320.07,700.44 L321.25,701.09 L322.41,701.72 L323.55,702.35 L324.67,702.97 L325.77,703.59 L326.85,704.20 L327.91,704.80 L328.96,705.40 L329.99,705.99 L331.01,706.58 L332.01,707.17 L332.99,707.75 L333.96,708.32 L334.91,708.88 L335.86,709.44 L336.78,710.00 L337.70,710.55 L338.60,711.09 L339.49,711.63 L340.37,712.16 L341.24,712.69 L342.09,713.21 L342.94,713.72 L343.77,714.24 L344.60,714.74 L345.41,715.24 L346.21,715.74 L347.01,716.23 L347.79,716.72 L348.56,717.20 L349.33,717.68 L350.09,718.15 L350.83,718.62 L351.57,719.09 L352.30,719.55 L353.03,720.00 L353.74,720.45 L354.45,720.90 L355.15,721.35 L355.84,721.78 L356.53,722.22 L357.21,722.65 L357.88,723.08 L358.54,723.50 L359.20,723.92 L359.85,724.34 L360.50,724.75 L361.13,725.16 L361.77,725.57 L362.39,725.97 L363.01,726.37 L363.63,726.77 L364.24,727.16 L364.84,727.55 L365.44,727.93 L366.03,728.32 L366.62,728.70 L367.20,729.07 L367.78,729.45 L368.35,729.82 L368.91,730.18 L369.48,730.55 L370.03,730.91 L370.58,731.27 L371.13,731.62 L371.68,731.97 L372.21,732.32 L372.75,732.67 L373.28,733.02 L373.80,733.36 L374.33,733.70 L374.84,734.03 L375.36,734.37 L375.87,734.70 L376.37,735.03 L376.87,735.35 L377.37,735.68 L377.86,736.00 L378.35,736.32 L378.84,736.64 L379.32,736.95 L379.80,737.26 L380.28,737.57 L380.75,737.88 L381.22,738.19 L381.69,738.49 L382.15,738.79 L382.61,739.09 L383.07,739.39 L383.52,739.68 L383.97,739.97 L384.41,740.26 L384.86,740.55 L385.30,740.84 L385.74,741.12 L386.17,741.40 L386.60,741.69 L387.03,741.96 L387.46,742.24 L387.88,742.52 L388.30,742.79 L388.72,743.06 L389.14,743.33 L389.55,743.60 L389.96,743.86 L390.37,744.13 L390.77,744.39 L391.18,744.65 L391.58,744.91 L391.97,745.16 L392.37,745.42 L392.76,745.67 L393.15,745.93 L393.54,746.18 L393.93,746.43 L394.31,746.67 L394.69,746.92 L395.07,747.16 L395.45,747.41 L395.83,747.65 L396.20,747.89 L396.57,748.12 L396.94,748.36 L397.30,748.60 L397.67,748.83 L398.03,749.06 L398.39,749.29 L398.75,749.52 L399.11,749.75 L399.46,749.98 L399.82,750.20 L400.17,750.43 L400.52,750.65 L400.86,750.87 L401.21,751.09 L401.55,751.31 L401.89,751.53 L402.23,751.75 L402.57,751.97 L402.91,752.18 L403.24,752.40 L403.58,752.61 L403.91,752.83 L404.24,753.04 L404.57,753.25" fill="none" stroke="#008400" stroke-width="2.20" stroke-linejoin="miter" stroke-miterlimit="10"/>
<path d="M57.80,563.10 L103.17,581.80 L129.70,601.00 L148.53,622.60 L163.13,633.50 L175.07,637.90 L185.16,640.40 L193.90,642.40 L201.60,644.00 L208.50,646.50 L214.74,649.24 L220.43,651.90 L225.67,654.27 L230.52,656.50 L235.04,658.61 L239.26,660.70 L243.23,662.86 L246.97,665.03 L250.51,667.17 L253.87,669.25 L257.06,671.26 L260.10,673.17 L263.01,675.00 L265.80,676.71 L268.47,678.33 L271.04,679.84 L273.51,681.28 L275.89,682.64 L278.18,683.95 L280.40,685.21 L282.55,686.42 L284.63,687.59 L286.64,688.73 L288.59,689.83 L290.49,690.90 L292.33,691.95 L294.13,692.97 L295.87,693.97 L297.57,694.95 L299.23,695.91 L300.85,696.86 L302.42,697.80 L303.96,698.72 L305.47,699.63 L306.94,700.52 L308.38,701.41 L309.79,702.29 L311.16,703.17 L312.51,704.04 L313.83,704.91 L315.13,705.77 L316.40,706.62 L317.65,707.46 L318.87,708.29 L320.07,709.11 L321.25,709.92 L322.41,710.70 L323.55,711.48 L324.67,712.24 L325.77,712.98 L326.85,713.71 L327.91,714.42 L328.96,715.12 L329.99,715.79 L331.01,716.46 L332.01,717.11 L332.99,717.75 L333.96,718.38 L334.91,719.00 L335.86,719.61 L336.78,720.21 L337.70,720.80 L338.60,721.38 L339.49,721.96 L340.37,722.52 L341.24,723.08 L342.09,723.63 L342.94,724.17 L343.77,724.70 L344.60,725.23 L345.41,725.75 L346.21,726.26 L347.01,726.77 L347.79,727.27 L348.56,727.76 L349.33,728.25 L350.09,728.73 L350.83,729.21 L351.57,729.68 L352.30,730.14 L353.03,730.60 L353.74,731.06 L354.45,731.51 L355.15,731.95 L355.84,732.39 L356.53,732.82 L357.21,733.25 L357.88,733.68 L358.54,734.10 L359.20,734.51 L359.85,734.93 L360.50,735.33 L361.13,735.74 L361.77,736.14 L362.39,736.54 L363.01,736.93 L363.63,737.32 L364.24,737.70 L364.84,738.08 L365.44,738.46 L366.03,738.84 L366.62,739.21 L367.20,739.58 L367.78,739.94 L368.35,740.30 L368.91,740.66 L369.48,741.02 L370.03,741.37 L370.58,741.72 L371.13,742.07 L371.68,742.41 L372.21,742.75 L372.75,743.09 L373.28,743.43 L373.80,743.76 L374.33,744.09 L374.84,744.42 L375.36,744.75 L375.87,745.07 L376.37,745.39 L376.87,745.71 L377.37,746.03 L377.86,746.34 L378.35,746.65 L378.84,746.96 L379.32,747.27 L379.80,747.58 L380.28,747.88 L380.75,748.18 L381.22,748.48 L381.69,748.78 L382.15,749.07 L382.61,749.37 L383.07,749.66 L383.52,749.95 L383.97,750.24 L384.41,750.52 L384.86,750.81 L385.30,751.09 L385.74,751.37 L386.17,751.65 L386.60,751.92 L387.03,752.20 L387.46,752.47 L387.88,752.74 L388.30,753.01 L388.72,753.28 L389.14,753.55 L389.55,753.81 L389.96,754.07 L390.37,754.34 L390.77,754.60 L391.18,754.85 L391.58,755.11 L391.97,755.37 L392.37,755.62 L392.76,755.87 L393.15,756.12 L393.54,756.37 L393.93,756.62 L394.31,756.87 L394.69,757.11 L395.07,757.35 L395.45,757.60 L395.83,757.84 L396.20,758.08 L396.57,758.31 L396.94,758.55 L397.30,758.79 L397.67,759.02 L398.03,759.25 L398.39,759.48 L398.75,759.71 L399.11,759.94 L399.46,760.17 L399.82,760.40 L400.17,760.62 L400.52,760.85 L400.86,761.07 L401.21,761.29 L401.55,761.51 L401.89,761.73 L402.23,761.95 L402.57,762.17 L402.91,762.38 L403.24,762.60 L403.58,762.81 L403.91,763.03 L404.24,763.24 L404.57,763.45" fill="none" stroke="#ff00ff" stroke-width="2.20" stroke-linejoin="miter" stroke-miterlimit="10"/>
<path d="M57.80,646.30 L103.17,609.10 L129.70,598.90 L148.53,596.80 L163.13,599.20 L175.07,603.10 L185.16,607.50 L193.90,612.60 L201.60,617.00 L208.50,621.40 L214.74,625.43 L220.43,629.00 L225.67,631.98 L230.52,634.70 L235.04,637.34 L239.26,639.90 L243.23,642.42 L246.97,644.84 L250.51,647.18 L253.87,649.43 L257.06,651.61 L260.10,653.70 L263.01,655.71 L265.80,657.66 L268.47,659.53 L271.04,661.34 L273.51,663.09 L275.89,664.78 L278.18,666.41 L280.40,667.98 L282.55,669.50 L284.63,670.98 L286.64,672.40 L288.59,673.78 L290.49,675.12 L292.33,676.42 L294.13,677.67 L295.87,678.89 L297.57,680.07 L299.23,681.21 L300.85,682.33 L302.42,683.41 L303.96,684.45 L305.47,685.47 L306.94,686.46 L308.38,687.42 L309.79,688.36 L311.16,689.27 L312.51,690.15 L313.83,691.01 L315.13,691.84 L316.40,692.66 L317.65,693.46 L318.87,694.24 L320.07,695.01 L321.25,695.76 L322.41,696.50 L323.55,697.23 L324.67,697.94 L325.77,698.65 L326.85,699.35 L327.91,700.04 L328.96,700.72 L329.99,701.39 L331.01,702.06 L332.01,702.72 L332.99,703.37 L333.96,704.01 L334.91,704.64 L335.86,705.26 L336.78,705.88 L337.70,706.48 L338.60,707.08 L339.49,707.67 L340.37,708.26 L341.24,708.83 L342.09,709.40 L342.94,709.97 L343.77,710.52 L344.60,711.07 L345.41,711.61 L346.21,712.15 L347.01,712.68 L347.79,713.21 L348.56,713.72 L349.33,714.24 L350.09,714.75 L350.83,715.25 L351.57,715.74 L352.30,716.24 L353.03,716.72 L353.74,717.20 L354.45,717.68 L355.15,718.15 L355.84,718.62 L356.53,719.08 L357.21,719.54 L357.88,719.99 L358.54,720.44 L359.20,720.88 L359.85,721.32 L360.50,721.76 L361.13,722.19 L361.77,722.62 L362.39,723.04 L363.01,723.46 L363.63,723.88 L364.24,724.29 L364.84,724.70 L365.44,725.10 L366.03,725.51 L366.62,725.90 L367.20,726.30 L367.78,726.69 L368.35,727.08 L368.91,727.46 L369.48,727.85 L370.03,728.22 L370.58,728.60 L371.13,728.97 L371.68,729.34 L372.21,729.71 L372.75,730.07 L373.28,730.43 L373.80,730.79 L374.33,731.15 L374.84,731.50 L375.36,731.85 L375.87,732.20 L376.37,732.54 L376.87,732.88 L377.37,733.22 L377.86,733.56 L378.35,733.89 L378.84,734.22 L379.32,734.55 L379.80,734.88 L380.28,735.21 L380.75,735.53 L381.22,735.85 L381.69,736.17 L382.15,736.48 L382.61,736.80 L383.07,737.11 L383.52,737.42 L383.97,737.73 L384.41,738.03 L384.86,738.33 L385.30,738.64 L385.74,738.94 L386.17,739.23 L386.60,739.53 L387.03,739.82 L387.46,740.11 L387.88,740.40 L388.30,740.69 L388.72,740.98 L389.14,741.26 L389.55,741.54 L389.96,741.82 L390.37,742.10 L390.77,742.38 L391.18,742.66 L391.58,742.93 L391.97,743.20 L392.37,743.47 L392.76,743.74 L393.15,744.01 L393.54,744.28 L393.93,744.54 L394.31,744.80 L394.69,745.07 L395.07,745.32 L395.45,745.58 L395.83,745.84 L396.20,746.10 L396.57,746.35 L396.94,746.60 L397.30,746.85 L397.67,747.10 L398.03,747.35 L398.39,747.60 L398.75,747.84 L399.11,748.09 L399.46,748.33 L399.82,748.57 L400.17,748.81 L400.52,749.05 L400.86,749.29 L401.21,749.53 L401.55,749.76 L401.89,750.00 L402.23,750.23 L402.57,750.46 L402.91,750.69 L403.24,750.92 L403.58,751.15 L403.91,751.38 L404.24,751.61 L404.57,751.84" fill="none" stroke="#008400" stroke-width="2.20" stroke-linejoin="miter" stroke-miterlimit="10" stroke-dasharray="2.3 2.8"/>
<path d="M57.80,563.10 L103.17,575.30 L129.70,582.00 L148.53,588.20 L163.13,592.60 L175.07,598.70 L185.16,604.10 L193.90,609.70 L201.60,614.60 L208.50,618.70 L214.74,622.60 L220.43,626.10 L225.67,629.04 L230.52,631.70 L235.04,634.20 L239.26,636.60 L243.23,638.96 L246.97,641.23 L250.51,643.41 L253.87,645.51 L257.06,647.53 L260.10,649.47 L263.01,651.35 L265.80,653.15 L268.47,654.89 L271.04,656.57 L273.51,658.19 L275.89,659.76 L278.18,661.27 L280.40,662.73 L282.55,664.15 L284.63,665.52 L286.64,666.85 L288.59,668.13 L290.49,669.38 L292.33,670.58 L294.13,671.76 L295.87,672.89 L297.57,674.00 L299.23,675.07 L300.85,676.11 L302.42,677.13 L303.96,678.11 L305.47,679.07 L306.94,680.00 L308.38,680.91 L309.79,681.79 L311.16,682.65 L312.51,683.49 L313.83,684.31 L315.13,685.11 L316.40,685.89 L317.65,686.65 L318.87,687.41 L320.07,688.14 L321.25,688.87 L322.41,689.58 L323.55,690.28 L324.67,690.97 L325.77,691.65 L326.85,692.33 L327.91,692.99 L328.96,693.65 L329.99,694.29 L331.01,694.94 L332.01,695.57 L332.99,696.19 L333.96,696.80 L334.91,697.41 L335.86,698.00 L336.78,698.59 L337.70,699.17 L338.60,699.74 L339.49,700.31 L340.37,700.87 L341.24,701.42 L342.09,701.96 L342.94,702.50 L343.77,703.03 L344.60,703.55 L345.41,704.07 L346.21,704.58 L347.01,705.09 L347.79,705.59 L348.56,706.08 L349.33,706.57 L350.09,707.06 L350.83,707.53 L351.57,708.01 L352.30,708.48 L353.03,708.94 L353.74,709.40 L354.45,709.85 L355.15,710.30 L355.84,710.75 L356.53,711.19 L357.21,711.62 L357.88,712.05 L358.54,712.48 L359.20,712.90 L359.85,713.32 L360.50,713.74 L361.13,714.15 L361.77,714.56 L362.39,714.96 L363.01,715.36 L363.63,715.76 L364.24,716.15 L364.84,716.54 L365.44,716.93 L366.03,717.31 L366.62,717.69 L367.20,718.07 L367.78,718.45 L368.35,718.82 L368.91,719.18 L369.48,719.55 L370.03,719.91 L370.58,720.27 L371.13,720.63 L371.68,720.98 L372.21,721.33 L372.75,721.68 L373.28,722.02 L373.80,722.37 L374.33,722.71 L374.84,723.04 L375.36,723.38 L375.87,723.71 L376.37,724.04 L376.87,724.37 L377.37,724.70 L377.86,725.02 L378.35,725.34 L378.84,725.66 L379.32,725.98 L379.80,726.29 L380.28,726.60 L380.75,726.91 L381.22,727.22 L381.69,727.53 L382.15,727.83 L382.61,728.13 L383.07,728.43 L383.52,728.73 L383.97,729.03 L384.41,729.32 L384.86,729.61 L385.30,729.90 L385.74,730.19 L386.17,730.48 L386.60,730.77 L387.03,731.05 L387.46,731.33 L387.88,731.61 L388.30,731.89 L388.72,732.17 L389.14,732.44 L389.55,732.71 L389.96,732.99 L390.37,733.26 L390.77,733.53 L391.18,733.79 L391.58,734.06 L391.97,734.32 L392.37,734.58 L392.76,734.85 L393.15,735.11 L393.54,735.36 L393.93,735.62 L394.31,735.88 L394.69,736.13 L395.07,736.38 L395.45,736.64 L395.83,736.89 L396.20,737.13 L396.57,737.38 L396.94,737.63 L397.30,737.87 L397.67,738.12 L398.03,738.36 L398.39,738.60 L398.75,738.84 L399.11,739.08 L399.46,739.32 L399.82,739.55 L400.17,739.79 L400.52,740.02 L400.86,740.25 L401.21,740.49 L401.55,740.72 L401.89,740.95 L402.23,741.17 L402.57,741.40 L402.91,741.63 L403.24,741.85 L403.58,742.08 L403.91,742.30 L404.24,742.52 L404.57,742.74" fill="none" stroke="#ff00ff" stroke-width="2.20" stroke-linejoin="miter" stroke-miterlimit="10" stroke-dasharray="2.3 2.8"/>
</g>
<path d="M57.80,7.33 H404.57 V254.97 H57.80 Z M57.80,254.97 h5.50 M404.57,254.97 h-5.50 M57.80,240.06 h2.80 M404.57,240.06 h-2.80 M57.80,231.34 h2.80 M404.57,231.34 h-2.80 M57.80,225.15 h2.80 M404.57,225.15 h-2.80 M57.80,220.35 h2.80 M404.57,220.35 h-2.80 M57.80,216.43 h2.80 M404.57,216.43 h-2.80 M57.80,213.11 h2.80 M404.57,213.11 h-2.80 M57.80,210.24 h2.80 M404.57,210.24 h-2.80 M57.80,207.71 h2.80 M404.57,207.71 h-2.80 M57.80,205.44 h5.50 M404.57,205.44 h-5.50 M57.80,190.53 h2.80 M404.57,190.53 h-2.80 M57.80,181.81 h2.80 M404.57,181.81 h-2.80 M57.80,175.62 h2.80 M404.57,175.62 h-2.80 M57.80,170.82 h2.80 M404.57,170.82 h-2.80 M57.80,166.90 h2.80 M404.57,166.90 h-2.80 M57.80,163.59 h2.80 M404.57,163.59 h-2.80 M57.80,160.71 h2.80 M404.57,160.71 h-2.80 M57.80,158.18 h2.80 M404.57,158.18 h-2.80 M57.80,155.91 h5.50 M404.57,155.91 h-5.50 M57.80,141.00 h2.80 M404.57,141.00 h-2.80 M57.80,132.28 h2.80 M404.57,132.28 h-2.80 M57.80,126.10 h2.80 M404.57,126.10 h-2.80 M57.80,121.30 h2.80 M404.57,121.30 h-2.80 M57.80,117.37 h2.80 M404.57,117.37 h-2.80 M57.80,114.06 h2.80 M404.57,114.06 h-2.80 M57.80,111.19 h2.80 M404.57,111.19 h-2.80 M57.80,108.65 h2.80 M404.57,108.65 h-2.80 M57.80,106.39 h5.50 M404.57,106.39 h-5.50 M57.80,91.48 h2.80 M404.57,91.48 h-2.80 M57.80,82.76 h2.80 M404.57,82.76 h-2.80 M57.80,76.57 h2.80 M404.57,76.57 h-2.80 M57.80,71.77 h2.80 M404.57,71.77 h-2.80 M57.80,67.85 h2.80 M404.57,67.85 h-2.80 M57.80,64.53 h2.80 M404.57,64.53 h-2.80 M57.80,61.66 h2.80 M404.57,61.66 h-2.80 M57.80,59.12 h2.80 M404.57,59.12 h-2.80 M57.80,56.86 h5.50 M404.57,56.86 h-5.50 M57.80,41.95 h2.80 M404.57,41.95 h-2.80 M57.80,33.23 h2.80 M404.57,33.23 h-2.80 M57.80,27.04 h2.80 M404.57,27.04 h-2.80 M57.80,22.24 h2.80 M404.57,22.24 h-2.80 M57.80,18.32 h2.80 M404.57,18.32 h-2.80 M57.80,15.00 h2.80 M404.57,15.00 h-2.80 M57.80,12.13 h2.80 M404.57,12.13 h-2.80 M57.80,9.60 h2.80 M404.57,9.60 h-2.80 M57.80,7.33 h5.50 M404.57,7.33 h-5.50 M57.80,7.33 v5.50 M57.80,254.97 v-5.50 M103.17,7.33 v2.80 M103.17,254.97 v-2.80 M129.70,7.33 v2.80 M129.70,254.97 v-2.80 M148.53,7.33 v2.80 M148.53,254.97 v-2.80 M163.13,7.33 v2.80 M163.13,254.97 v-2.80 M175.07,7.33 v2.80 M175.07,254.97 v-2.80 M185.16,7.33 v2.80 M185.16,254.97 v-2.80 M193.90,7.33 v2.80 M193.90,254.97 v-2.80 M201.60,7.33 v2.80 M201.60,254.97 v-2.80 M208.50,7.33 v5.50 M208.50,254.97 v-5.50 M253.87,7.33 v2.80 M253.87,254.97 v-2.80 M280.40,7.33 v2.80 M280.40,254.97 v-2.80 M299.23,7.33 v2.80 M299.23,254.97 v-2.80 M313.83,7.33 v2.80 M313.83,254.97 v-2.80 M325.77,7.33 v2.80 M325.77,254.97 v-2.80 M335.86,7.33 v2.80 M335.86,254.97 v-2.80 M344.60,7.33 v2.80 M344.60,254.97 v-2.80 M352.30,7.33 v2.80 M352.30,254.97 v-2.80 M359.20,7.33 v5.50 M359.20,254.97 v-5.50 M404.57,7.33 v2.80 M404.57,254.97 v-2.80 M57.80,254.97 H404.57 V502.61 H57.80 Z M57.80,502.61 h5.50 M404.57,502.61 h-5.50 M57.80,487.70 h2.80 M404.57,487.70 h-2.80 M57.80,478.98 h2.80 M404.57,478.98 h-2.80 M57.80,472.79 h2.80 M404.57,472.79 h-2.80 M57.80,467.99 h2.80 M404.57,467.99 h-2.80 M57.80,464.07 h2.80 M404.57,464.07 h-2.80 M57.80,460.75 h2.80 M404.57,460.75 h-2.80 M57.80,457.88 h2.80 M404.57,457.88 h-2.80 M57.80,455.35 h2.80 M404.57,455.35 h-2.80 M57.80,453.08 h5.50 M404.57,453.08 h-5.50 M57.80,438.17 h2.80 M404.57,438.17 h-2.80 M57.80,429.45 h2.80 M404.57,429.45 h-2.80 M57.80,423.26 h2.80 M404.57,423.26 h-2.80 M57.80,418.46 h2.80 M404.57,418.46 h-2.80 M57.80,414.54 h2.80 M404.57,414.54 h-2.80 M57.80,411.23 h2.80 M404.57,411.23 h-2.80 M57.80,408.35 h2.80 M404.57,408.35 h-2.80 M57.80,405.82 h2.80 M404.57,405.82 h-2.80 M57.80,403.55 h5.50 M404.57,403.55 h-5.50 M57.80,388.64 h2.80 M404.57,388.64 h-2.80 M57.80,379.92 h2.80 M404.57,379.92 h-2.80 M57.80,373.74 h2.80 M404.57,373.74 h-2.80 M57.80,368.94 h2.80 M404.57,368.94 h-2.80 M57.80,365.01 h2.80 M404.57,365.01 h-2.80 M57.80,361.70 h2.80 M404.57,361.70 h-2.80 M57.80,358.83 h2.80 M404.57,358.83 h-2.80 M57.80,356.29 h2.80 M404.57,356.29 h-2.80 M57.80,354.03 h5.50 M404.57,354.03 h-5.50 M57.80,339.12 h2.80 M404.57,339.12 h-2.80 M57.80,330.40 h2.80 M404.57,330.40 h-2.80 M57.80,324.21 h2.80 M404.57,324.21 h-2.80 M57.80,319.41 h2.80 M404.57,319.41 h-2.80 M57.80,315.49 h2.80 M404.57,315.49 h-2.80 M57.80,312.17 h2.80 M404.57,312.17 h-2.80 M57.80,309.30 h2.80 M404.57,309.30 h-2.80 M57.80,306.76 h2.80 M404.57,306.76 h-2.80 M57.80,304.50 h5.50 M404.57,304.50 h-5.50 M57.80,289.59 h2.80 M404.57,289.59 h-2.80 M57.80,280.87 h2.80 M404.57,280.87 h-2.80 M57.80,274.68 h2.80 M404.57,274.68 h-2.80 M57.80,269.88 h2.80 M404.57,269.88 h-2.80 M57.80,265.96 h2.80 M404.57,265.96 h-2.80 M57.80,262.64 h2.80 M404.57,262.64 h-2.80 M57.80,259.77 h2.80 M404.57,259.77 h-2.80 M57.80,257.24 h2.80 M404.57,257.24 h-2.80 M57.80,254.97 h5.50 M404.57,254.97 h-5.50 M57.80,254.97 v5.50 M57.80,502.61 v-5.50 M103.17,254.97 v2.80 M103.17,502.61 v-2.80 M129.70,254.97 v2.80 M129.70,502.61 v-2.80 M148.53,254.97 v2.80 M148.53,502.61 v-2.80 M163.13,254.97 v2.80 M163.13,502.61 v-2.80 M175.07,254.97 v2.80 M175.07,502.61 v-2.80 M185.16,254.97 v2.80 M185.16,502.61 v-2.80 M193.90,254.97 v2.80 M193.90,502.61 v-2.80 M201.60,254.97 v2.80 M201.60,502.61 v-2.80 M208.50,254.97 v5.50 M208.50,502.61 v-5.50 M253.87,254.97 v2.80 M253.87,502.61 v-2.80 M280.40,254.97 v2.80 M280.40,502.61 v-2.80 M299.23,254.97 v2.80 M299.23,502.61 v-2.80 M313.83,254.97 v2.80 M313.83,502.61 v-2.80 M325.77,254.97 v2.80 M325.77,502.61 v-2.80 M335.86,254.97 v2.80 M335.86,502.61 v-2.80 M344.60,254.97 v2.80 M344.60,502.61 v-2.80 M352.30,254.97 v2.80 M352.30,502.61 v-2.80 M359.20,254.97 v5.50 M359.20,502.61 v-5.50 M404.57,254.97 v2.80 M404.57,502.61 v-2.80 M57.80,502.61 H404.57 V750.25 H57.80 Z M57.80,750.25 h5.50 M404.57,750.25 h-5.50 M57.80,735.34 h2.80 M404.57,735.34 h-2.80 M57.80,726.62 h2.80 M404.57,726.62 h-2.80 M57.80,720.43 h2.80 M404.57,720.43 h-2.80 M57.80,715.63 h2.80 M404.57,715.63 h-2.80 M57.80,711.71 h2.80 M404.57,711.71 h-2.80 M57.80,708.39 h2.80 M404.57,708.39 h-2.80 M57.80,705.52 h2.80 M404.57,705.52 h-2.80 M57.80,702.99 h2.80 M404.57,702.99 h-2.80 M57.80,700.72 h5.50 M404.57,700.72 h-5.50 M57.80,685.81 h2.80 M404.57,685.81 h-2.80 M57.80,677.09 h2.80 M404.57,677.09 h-2.80 M57.80,670.90 h2.80 M404.57,670.90 h-2.80 M57.80,666.10 h2.80 M404.57,666.10 h-2.80 M57.80,662.18 h2.80 M404.57,662.18 h-2.80 M57.80,658.87 h2.80 M404.57,658.87 h-2.80 M57.80,655.99 h2.80 M404.57,655.99 h-2.80 M57.80,653.46 h2.80 M404.57,653.46 h-2.80 M57.80,651.19 h5.50 M404.57,651.19 h-5.50 M57.80,636.28 h2.80 M404.57,636.28 h-2.80 M57.80,627.56 h2.80 M404.57,627.56 h-2.80 M57.80,621.38 h2.80 M404.57,621.38 h-2.80 M57.80,616.58 h2.80 M404.57,616.58 h-2.80 M57.80,612.65 h2.80 M404.57,612.65 h-2.80 M57.80,609.34 h2.80 M404.57,609.34 h-2.80 M57.80,606.47 h2.80 M404.57,606.47 h-2.80 M57.80,603.93 h2.80 M404.57,603.93 h-2.80 M57.80,601.67 h5.50 M404.57,601.67 h-5.50 M57.80,586.76 h2.80 M404.57,586.76 h-2.80 M57.80,578.04 h2.80 M404.57,578.04 h-2.80 M57.80,571.85 h2.80 M404.57,571.85 h-2.80 M57.80,567.05 h2.80 M404.57,567.05 h-2.80 M57.80,563.13 h2.80 M404.57,563.13 h-2.80 M57.80,559.81 h2.80 M404.57,559.81 h-2.80 M57.80,556.94 h2.80 M404.57,556.94 h-2.80 M57.80,554.40 h2.80 M404.57,554.40 h-2.80 M57.80,552.14 h5.50 M404.57,552.14 h-5.50 M57.80,537.23 h2.80 M404.57,537.23 h-2.80 M57.80,528.51 h2.80 M404.57,528.51 h-2.80 M57.80,522.32 h2.80 M404.57,522.32 h-2.80 M57.80,517.52 h2.80 M404.57,517.52 h-2.80 M57.80,513.60 h2.80 M404.57,513.60 h-2.80 M57.80,510.28 h2.80 M404.57,510.28 h-2.80 M57.80,507.41 h2.80 M404.57,507.41 h-2.80 M57.80,504.88 h2.80 M404.57,504.88 h-2.80 M57.80,502.61 h5.50 M404.57,502.61 h-5.50 M57.80,502.61 v5.50 M57.80,750.25 v-5.50 M103.17,502.61 v2.80 M103.17,750.25 v-2.80 M129.70,502.61 v2.80 M129.70,750.25 v-2.80 M148.53,502.61 v2.80 M148.53,750.25 v-2.80 M163.13,502.61 v2.80 M163.13,750.25 v-2.80 M175.07,502.61 v2.80 M175.07,750.25 v-2.80 M185.16,502.61 v2.80 M185.16,750.25 v-2.80 M193.90,502.61 v2.80 M193.90,750.25 v-2.80 M201.60,502.61 v2.80 M201.60,750.25 v-2.80 M208.50,502.61 v5.50 M208.50,750.25 v-5.50 M253.87,502.61 v2.80 M253.87,750.25 v-2.80 M280.40,502.61 v2.80 M280.40,750.25 v-2.80 M299.23,502.61 v2.80 M299.23,750.25 v-2.80 M313.83,502.61 v2.80 M313.83,750.25 v-2.80 M325.77,502.61 v2.80 M325.77,750.25 v-2.80 M335.86,502.61 v2.80 M335.86,750.25 v-2.80 M344.60,502.61 v2.80 M344.60,750.25 v-2.80 M352.30,502.61 v2.80 M352.30,750.25 v-2.80 M359.20,502.61 v5.50 M359.20,750.25 v-5.50 M404.57,502.61 v2.80 M404.57,750.25 v-2.80" fill="none" stroke="#000" stroke-width="1.00" stroke-linecap="butt"/>
<text x="57.10" y="65.36" font-family="Liberation Sans, sans-serif" font-size="16.5" text-anchor="end">10<tspan dy="-9.2" font-size="12.0">0</tspan></text>
<text x="57.10" y="164.41" font-family="Liberation Sans, sans-serif" font-size="16.5" text-anchor="end">10<tspan dy="-9.2" font-size="12.0">−2</tspan></text>
<text x="57.10" y="263.47" font-family="Liberation Sans, sans-serif" font-size="16.5" text-anchor="end">10<tspan dy="-9.2" font-size="12.0">−4</tspan></text>
<text x="57.10" y="313.00" font-family="Liberation Sans, sans-serif" font-size="16.5" text-anchor="end">10<tspan dy="-9.2" font-size="12.0">0</tspan></text>
<text x="57.10" y="412.05" font-family="Liberation Sans, sans-serif" font-size="16.5" text-anchor="end">10<tspan dy="-9.2" font-size="12.0">−2</tspan></text>
<text x="57.10" y="511.11" font-family="Liberation Sans, sans-serif" font-size="16.5" text-anchor="end">10<tspan dy="-9.2" font-size="12.0">−4</tspan></text>
<text x="57.10" y="560.64" font-family="Liberation Sans, sans-serif" font-size="16.5" text-anchor="end">10<tspan dy="-9.2" font-size="12.0">0</tspan></text>
<text x="57.10" y="659.69" font-family="Liberation Sans, sans-serif" font-size="16.5" text-anchor="end">10<tspan dy="-9.2" font-size="12.0">−2</tspan></text>
<text x="57.10" y="758.75" font-family="Liberation Sans, sans-serif" font-size="16.5" text-anchor="end">10<tspan dy="-9.2" font-size="12.0">−4</tspan></text>
<text x="58.60" y="774.70" font-family="Liberation Sans, sans-serif" font-size="16.5" text-anchor="middle">10<tspan dy="-9.2" font-size="12.0">0</tspan></text>
<text x="209.30" y="774.70" font-family="Liberation Sans, sans-serif" font-size="16.5" text-anchor="middle">10<tspan dy="-9.2" font-size="12.0">1</tspan></text>
<text x="360.00" y="774.70" font-family="Liberation Sans, sans-serif" font-size="16.5" text-anchor="middle">10<tspan dy="-9.2" font-size="12.0">2</tspan></text>
<text x="213.30" y="794.40" font-family="Liberation Serif, serif" font-size="17.0" ><tspan font-style="italic">N</tspan><tspan font-style="italic" font-size="13" dy="5.6">L</tspan></text>
<text transform="translate(15.9,127.85) rotate(-90)" font-family="Liberation Serif, serif" font-size="17.0" text-anchor="middle"><tspan font-style="italic">T</tspan><tspan font-size="12.3" dy="5.5">μ,ν</tspan></text>
<text transform="translate(15.9,375.49) rotate(-90)" font-family="Liberation Serif, serif" font-size="17.0" text-anchor="middle"><tspan font-style="italic">T</tspan><tspan font-size="12.3" dy="5.5">μ,ν</tspan></text>
<text transform="translate(15.9,623.13) rotate(-90)" font-family="Liberation Serif, serif" font-size="17.0" text-anchor="middle"><tspan font-style="italic">T</tspan><tspan font-size="12.3" dy="5.5">μ,ν</tspan></text>
<text x="75.30" y="32.80" font-family="Liberation Serif, serif" font-size="17.0" style="font-size:17.4px">(a)</text>
<text x="109.60" y="27.30" font-family="Liberation Serif, serif" font-size="17.0" style="font-size:17.4px"><tspan font-style="italic">N</tspan>=4</text>
<text x="109.60" y="45.60" font-family="Liberation Serif, serif" font-size="17.0" style="font-size:17.4px"><tspan font-style="italic">E/t</tspan>=0.1</text>
<text x="75.30" y="280.44" font-family="Liberation Serif, serif" font-size="17.0" style="font-size:17.4px">(b)</text>
<text x="109.60" y="274.94" font-family="Liberation Serif, serif" font-size="17.0" style="font-size:17.4px"><tspan font-style="italic">N</tspan>=4</text>
<text x="109.60" y="293.24" font-family="Liberation Serif, serif" font-size="17.0" style="font-size:17.4px"><tspan font-style="italic">E/t</tspan>=−0.1</text>
<text x="75.30" y="528.08" font-family="Liberation Serif, serif" font-size="17.0" style="font-size:17.4px">(c)</text>
<text x="109.60" y="522.58" font-family="Liberation Serif, serif" font-size="17.0" style="font-size:17.4px"><tspan font-style="italic">N</tspan>=4</text>
<text x="109.60" y="540.88" font-family="Liberation Serif, serif" font-size="17.0" style="font-size:17.4px"><tspan font-style="italic">E/t</tspan>=0.0</text>
<text x="381.80" y="52.80" font-family="Liberation Serif, serif" font-size="17.0" ><tspan font-style="italic">g</tspan></text>
<text x="381.80" y="300.44" font-family="Liberation Serif, serif" font-size="17.0" ><tspan font-style="italic">g</tspan></text>
<text x="381.80" y="677.00" font-family="Liberation Serif, serif" font-size="17.0" ><tspan font-style="italic">g</tspan></text>
<text x="114.40" y="76.30" font-family="Liberation Serif, serif" font-size="17.0" ><tspan fill="#0000ff" font-style="italic">T</tspan><tspan fill="#0000ff" font-size="12.3" dy="5.7">1,1</tspan></text>
<text x="372.70" y="106.50" font-family="Liberation Serif, serif" font-size="17.0" ><tspan fill="#ff0000" font-style="italic">T</tspan><tspan fill="#ff0000" font-size="12.3" dy="5.7">1,3</tspan></text>
<text x="372.60" y="131.00" font-family="Liberation Serif, serif" font-size="17.0" ><tspan fill="#008400" font-style="italic">T</tspan><tspan fill="#008400" font-size="12.3" dy="5.7">3,1</tspan></text>
<text x="372.70" y="170.60" font-family="Liberation Serif, serif" font-size="17.0" ><tspan fill="#ff00ff" font-style="italic">T</tspan><tspan fill="#ff00ff" font-size="12.3" dy="5.7">3,3</tspan></text>
<text x="150.30" y="195.90" font-family="Liberation Serif, serif" font-size="17.0" ><tspan fill="#ff0000" font-style="italic">T</tspan><tspan fill="#ff0000" font-size="12.3" dy="5.7">2,4</tspan></text>
<text x="204.60" y="201.00" font-family="Liberation Serif, serif" font-size="17.0" ><tspan fill="#0000ff" font-style="italic">T</tspan><tspan fill="#0000ff" font-size="12.3" dy="5.7">2,2</tspan></text>
<text x="174.90" y="245.40" font-family="Liberation Serif, serif" font-size="17.0" ><tspan fill="#008400" font-style="italic">T</tspan><tspan fill="#008400" font-size="12.3" dy="5.7">4,2</tspan></text>
<text x="224.40" y="245.40" font-family="Liberation Serif, serif" font-size="17.0" ><tspan fill="#ff00ff" font-style="italic">T</tspan><tspan fill="#ff00ff" font-size="12.3" dy="5.7">4,4</tspan></text>
<text x="114.40" y="323.80" font-family="Liberation Serif, serif" font-size="17.0" ><tspan fill="#ff00ff" font-style="italic">T</tspan><tspan fill="#ff00ff" font-size="12.3" dy="5.7">4,4</tspan></text>
<text x="372.70" y="354.14" font-family="Liberation Serif, serif" font-size="17.0" ><tspan fill="#008400" font-style="italic">T</tspan><tspan fill="#008400" font-size="12.3" dy="5.7">4,2</tspan></text>
<text x="372.70" y="378.64" font-family="Liberation Serif, serif" font-size="17.0" ><tspan fill="#ff0000" font-style="italic">T</tspan><tspan fill="#ff0000" font-size="12.3" dy="5.7">2,4</tspan></text>
<text x="372.70" y="418.24" font-family="Liberation Serif, serif" font-size="17.0" ><tspan fill="#0000ff" font-style="italic">T</tspan><tspan fill="#0000ff" font-size="12.3" dy="5.7">2,2</tspan></text>
<text x="159.70" y="453.10" font-family="Liberation Serif, serif" font-size="17.0" ><tspan fill="#008400" font-style="italic">T</tspan><tspan fill="#008400" font-size="12.3" dy="5.7">3,1</tspan></text>
<text x="209.60" y="453.10" font-family="Liberation Serif, serif" font-size="17.0" ><tspan fill="#ff00ff" font-style="italic">T</tspan><tspan fill="#ff00ff" font-size="12.3" dy="5.7">3,3</tspan></text>
<text x="168.90" y="492.70" font-family="Liberation Serif, serif" font-size="17.0" ><tspan fill="#ff0000" font-style="italic">T</tspan><tspan fill="#ff0000" font-size="12.3" dy="5.7">1,3</tspan></text>
<text x="223.90" y="492.70" font-family="Liberation Serif, serif" font-size="17.0" ><tspan fill="#0000ff" font-style="italic">T</tspan><tspan fill="#0000ff" font-size="12.3" dy="5.7">1,1</tspan></text>
<text x="223.50" y="578.30" font-family="Liberation Serif, serif" font-size="17.0" ><tspan fill="#0000ff" font-style="italic">T</tspan><tspan fill="#0000ff" font-size="12.3" dy="5.7">1,1</tspan><tspan dy="-4.6" font-size="17.0">=</tspan><tspan fill="#ff00ff" font-style="italic" dy="-1.1">T</tspan><tspan fill="#ff00ff" font-size="12.3" dy="5.7">4,4</tspan></text>
<text x="308.50" y="621.80" font-family="Liberation Serif, serif" font-size="17.0" ><tspan fill="#0000ff" font-style="italic">T</tspan><tspan fill="#0000ff" font-size="12.3" dy="5.7">2,2</tspan><tspan dy="-4.6" font-size="17.0">=</tspan><tspan fill="#ff00ff" font-style="italic" dy="-1.1">T</tspan><tspan fill="#ff00ff" font-size="12.3" dy="5.7">3,3</tspan></text>
<text x="65.70" y="676.40" font-family="Liberation Serif, serif" font-size="17.0" ><tspan fill="#ff0000" font-style="italic">T</tspan><tspan fill="#ff0000" font-size="12.3" dy="5.7">1,3</tspan><tspan dy="-4.6" font-size="17.0">=</tspan><tspan fill="#008400" font-style="italic" dy="-1.1">T</tspan><tspan fill="#008400" font-size="12.3" dy="5.7">4,2</tspan></text>
<text x="134.70" y="710.30" font-family="Liberation Serif, serif" font-size="17.0" ><tspan fill="#ff0000" font-style="italic">T</tspan><tspan fill="#ff0000" font-size="12.3" dy="5.7">2,4</tspan><tspan dy="-4.6" font-size="17.0">=</tspan><tspan fill="#008400" font-style="italic" dy="-1.1">T</tspan><tspan fill="#008400" font-size="12.3" dy="5.7">3,1</tspan></text>
<path d="M218.70,572.20 L117.40,572.20" stroke="#000" stroke-width="1" fill="none"/>
<path d="M110.00,572.20 L117.40,569.20 L117.40,575.20 Z" fill="#000"/>
<path d="M298.00,617.00 L156.90,617.00" stroke="#000" stroke-width="1" fill="none"/>
<path d="M149.50,617.00 L156.90,614.00 L156.90,620.00 Z" fill="#000"/>
<path d="M90.30,661.70 L90.30,634.90" stroke="#000" stroke-width="1" fill="none"/>
<path d="M90.30,627.50 L93.30,634.90 L87.30,634.90 Z" fill="#000"/>
<path d="M164.40,695.30 L164.40,675.10" stroke="#000" stroke-width="1" fill="none"/>
<path d="M164.40,667.70 L167.40,675.10 L161.40,675.10 Z" fill="#000"/>
</svg>
</body></html>
